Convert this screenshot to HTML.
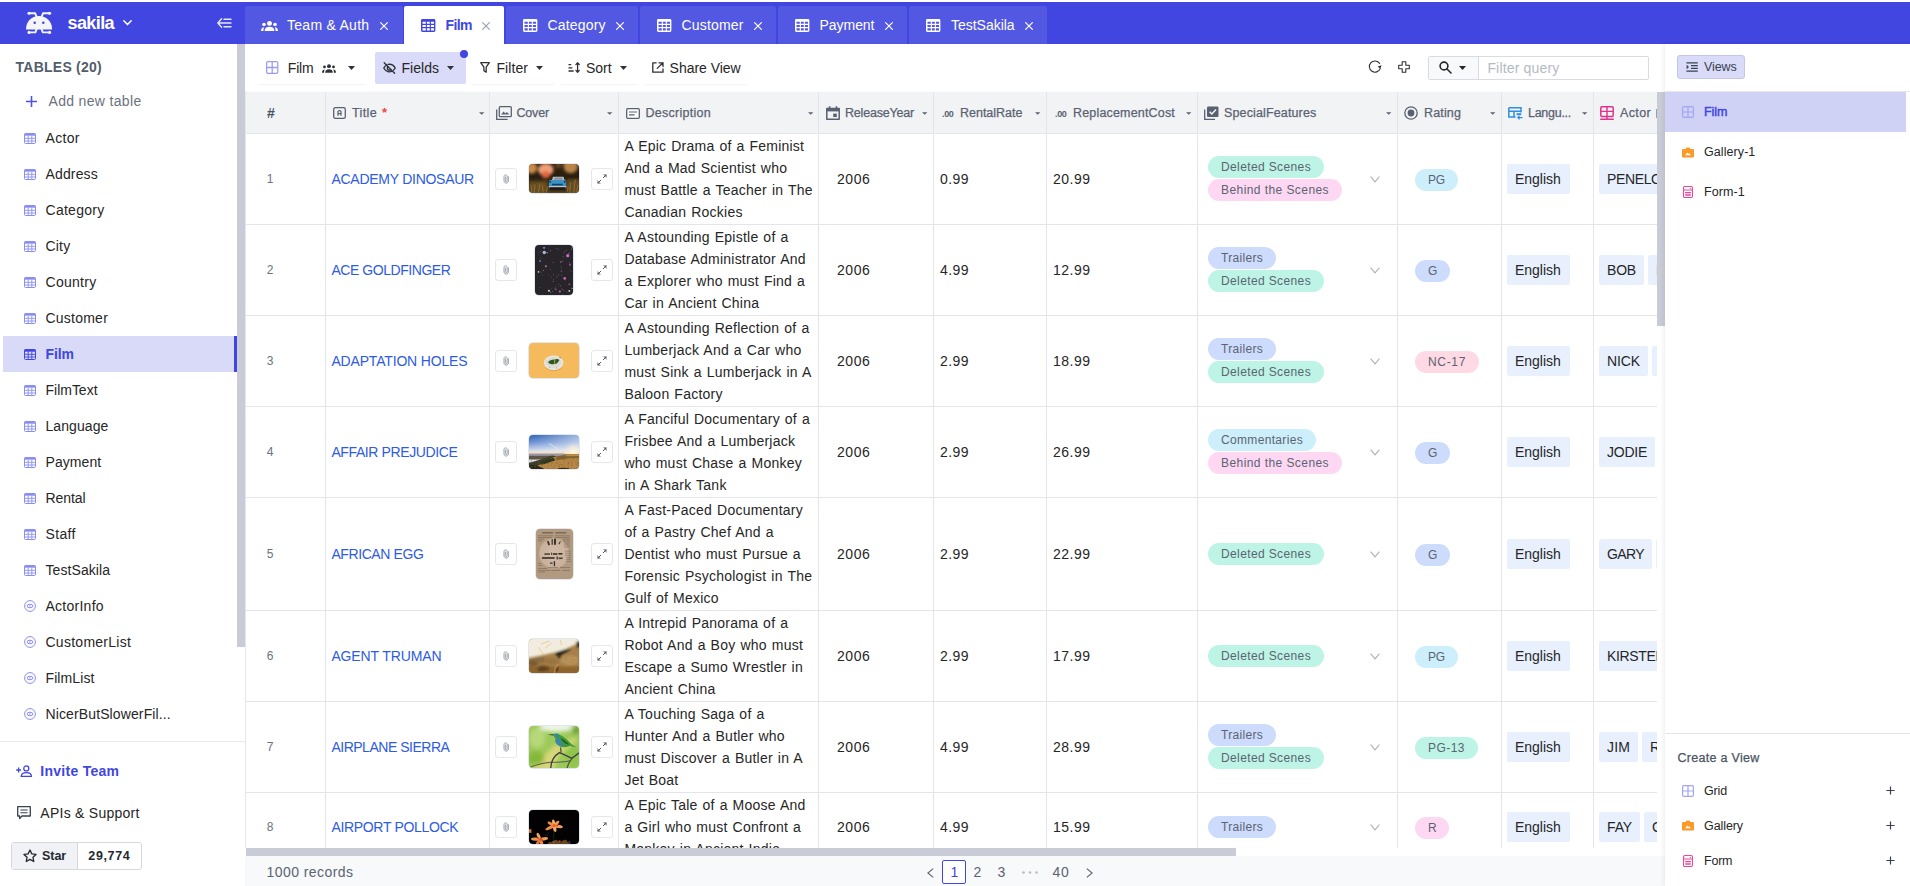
<!DOCTYPE html>
<html lang="en"><head><meta charset="utf-8"><title>sakila - Film</title>
<style>
*{box-sizing:border-box}
html,body{margin:0;padding:0}
body{width:1910px;height:886px;overflow:hidden;background:#fff;position:relative;font-family:"Liberation Sans",sans-serif;color:#262626;font-size:14px}
.abs{position:absolute}
.t{position:absolute;white-space:nowrap;line-height:20px;height:20px}
svg{position:absolute;overflow:visible}
#hdr{position:absolute;left:0;top:2px;width:1910px;height:42px;background:#4046df}
.tab{position:absolute;top:4px;height:38px;background:rgba(255,255,255,.10);border-radius:2px 2px 0 0}
.tab.act{background:#fff}
.tab .t{color:#fff}
#side{position:absolute;left:0;top:44px;width:237px;height:842px;background:#fff}
.sel{position:absolute;left:3px;top:292px;width:234px;height:36px;background:#d9daf8;border-right:3px solid #4046df}
#sbar{position:absolute;left:237px;top:44px;width:8px;height:603px;background:#c9ccd6}
#tool{position:absolute;left:245px;top:44px;width:1420px;height:47px;background:#fff}
.tb{position:absolute;top:52px;height:32px;border-radius:2px;box-shadow:0 2px 2px -1px rgba(0,0,0,.05)}
#grid{position:absolute;left:245px;top:91px;width:1412px;height:757px;overflow:hidden;background:#fff;border-top:1px solid #fbfbfc;border-left:1px solid #e5e7eb}
.hl{position:absolute;left:0;width:1412px;height:1px;background:#e4e5ec}
.vl{position:absolute;top:0;width:1px;height:757px;background:#e4e5ec}
#ghead{position:absolute;left:0;top:0;width:1412px;height:41px;background:#f2f3f5}
.hd{color:#5b6472}
.desc{position:absolute;left:379px;width:196px;font-size:14px;line-height:22px;color:#262626;white-space:nowrap}
.desc div{height:22px}
.btn{position:absolute;width:22px;height:22px;border:1px solid #e5e7eb;border-radius:3px;background:#fff}
.th{position:absolute;border-radius:4px;overflow:hidden;box-shadow:0 0 0 .5px rgba(150,165,200,.55)}
.th svg{left:0;top:0;width:100%;height:100%}
.tag{position:absolute;height:22px;border-radius:11px;font-size:12px;line-height:22px;color:#5b6472;padding:0 13px;white-space:nowrap}
.chip{position:absolute;height:30px;background:#e8f0fe;border-radius:2px;font-size:14px;line-height:30px;color:#262626;padding:0 8px;white-space:nowrap}
#foot{position:absolute;left:245px;top:856px;width:1420px;height:30px;background:#f8f9fb}
#hsb{position:absolute;left:246px;top:848px;width:990px;height:8px;background:#c9ccd6}
#vsb{position:absolute;left:1657px;top:92px;width:8px;height:234px;background:#c9ccd6}
#right{position:absolute;left:1665px;top:44px;width:245px;height:842px;background:#fff;box-shadow:-2px 0 4px rgba(0,0,0,.06)}
</style></head><body>
<div id="hdr">
<svg style="left:26px;top:10px" width="26" height="22" viewBox="0 0 26 22" fill="#f4f5f7">
<path d="M0 17.4 C0 9.6 5.4 4 13 4 C20.6 4 26.1 9.6 26.1 17.4 Z"/>
<circle cx="8.7" cy="10.7" r="1.25" fill="#4046df"/><circle cx="17.3" cy="10.7" r="1.25" fill="#4046df"/>
<g fill="none" stroke="#f4f5f7" stroke-width="1.9" stroke-linejoin="round">
<path d="M3 1.3 H9.2 L10.8 5.4"/><path d="M23.6 1.3 H17 L15.4 5.4"/>
<path d="M3 20.4 H9.4 L10.8 16.6"/><path d="M23.6 20.4 H16.8 L15.4 16.6"/>
</g>
<circle cx="3" cy="1.3" r="1.55"/><circle cx="23.6" cy="1.3" r="1.55"/><circle cx="3" cy="20.4" r="1.55"/><circle cx="23.6" cy="20.4" r="1.55"/>
</svg>
<span class="t " style="left:67.5px;top:11px;font-size:18px;letter-spacing:-0.594px;font-weight:700;color:#fff;">sakila</span>
<svg style="left:123px;top:18px" width="9" height="6" viewBox="0 0 9 6" fill="none" stroke="#fff" stroke-width="1.5" stroke-linecap="round" stroke-linejoin="round"><path d="M0.8 0.8 L4.5 4.6 L8.2 0.8"/></svg>
<svg style="left:217px;top:16px" width="15" height="10" viewBox="0 0 15 10" fill="none" stroke="#e5e7ff" stroke-width="1.4" stroke-linecap="round" stroke-linejoin="round"><path d="M4.6 0.8 L0.8 5 L4.6 9.2 M0.8 5 L14 5 M7 1.2 L14 1.2 M7 8.8 L14 8.8"/></svg>
<div class="tab" style="left:245px;width:158px">
<svg style="left:16px;top:14.6px" width="17" height="10.4" viewBox="0 0 17 11" preserveAspectRatio="none" fill="#fff"><circle cx="8.5" cy="2.6" r="2.5"/><path d="M3.6 10.6 C3.6 7.6 5.6 6.2 8.5 6.2 C11.4 6.2 13.4 7.6 13.4 10.6 Z"/><circle cx="3" cy="3.6" r="1.8"/><circle cx="14" cy="3.6" r="1.8"/><path d="M0 10.6 C0 8 1.2 6.8 3.4 6.6 C2.6 7.6 2.4 9 2.4 10.6 Z"/><path d="M17 10.6 C17 8 15.8 6.8 13.6 6.6 C14.4 7.6 14.6 9 14.6 10.6 Z"/></svg>
<span class="t " style="left:42px;top:9px;font-size:14px;letter-spacing:0.275px;color:#fff;">Team &amp; Auth</span>
<svg style="left:135px;top:16px" width="8" height="8" viewBox="0 0 8 8" fill="none" stroke="#fff" stroke-width="1.2" stroke-linecap="round"><path d="M0.6 0.6 L7.4 7.4 M7.4 0.6 L0.6 7.4"/></svg>
</div>
<div class="tab act" style="left:404px;width:100px">
<svg style="left:17.4px;top:13px" width="14.4" height="12.9" viewBox="0 0 14.4 12.9"><path fill-rule="evenodd" fill="#4046df" d="M1.4 0 H13 A1.4 1.4 0 0 1 14.4 1.4 V11.5 A1.4 1.4 0 0 1 13 12.9 H1.4 A1.4 1.4 0 0 1 0 11.5 V1.4 A1.4 1.4 0 0 1 1.4 0 Z M1.5 2.7 V4.8 H4.8 V2.7 Z M1.5 5.9 V8.1 H4.8 V5.9 Z M1.5 9.2 V11.4 H4.8 V9.2 Z M5.9 2.7 V4.8 H8.8 V2.7 Z M5.9 5.9 V8.1 H8.8 V5.9 Z M5.9 9.2 V11.4 H8.8 V9.2 Z M9.9 2.7 V4.8 H13.0 V2.7 Z M9.9 5.9 V8.1 H13.0 V5.9 Z M9.9 9.2 V11.4 H13.0 V9.2 Z"/></svg>
<span class="t " style="left:41.4px;top:9px;font-size:14px;letter-spacing:-0.545px;font-weight:700;color:#4046df;">Film</span>
<svg style="left:78px;top:16px" width="8" height="8" viewBox="0 0 8 8" fill="none" stroke="#9ca3af" stroke-width="1.2" stroke-linecap="round"><path d="M0.6 0.6 L7.4 7.4 M7.4 0.6 L0.6 7.4"/></svg>
</div>
<div class="tab" style="left:506px;width:132px">
<svg style="left:17.4px;top:13px" width="14.4" height="12.9" viewBox="0 0 14.4 12.9"><path fill-rule="evenodd" fill="#fff" d="M1.4 0 H13 A1.4 1.4 0 0 1 14.4 1.4 V11.5 A1.4 1.4 0 0 1 13 12.9 H1.4 A1.4 1.4 0 0 1 0 11.5 V1.4 A1.4 1.4 0 0 1 1.4 0 Z M1.5 2.7 V4.8 H4.8 V2.7 Z M1.5 5.9 V8.1 H4.8 V5.9 Z M1.5 9.2 V11.4 H4.8 V9.2 Z M5.9 2.7 V4.8 H8.8 V2.7 Z M5.9 5.9 V8.1 H8.8 V5.9 Z M5.9 9.2 V11.4 H8.8 V9.2 Z M9.9 2.7 V4.8 H13.0 V2.7 Z M9.9 5.9 V8.1 H13.0 V5.9 Z M9.9 9.2 V11.4 H13.0 V9.2 Z"/></svg>
<span class="t " style="left:41.6px;top:9px;font-size:14px;letter-spacing:0.152px;color:#fff;">Category</span>
<svg style="left:110px;top:16px" width="8" height="8" viewBox="0 0 8 8" fill="none" stroke="#fff" stroke-width="1.2" stroke-linecap="round"><path d="M0.6 0.6 L7.4 7.4 M7.4 0.6 L0.6 7.4"/></svg>
</div>
<div class="tab" style="left:640px;width:136px">
<svg style="left:17px;top:13px" width="14.4" height="12.9" viewBox="0 0 14.4 12.9"><path fill-rule="evenodd" fill="#fff" d="M1.4 0 H13 A1.4 1.4 0 0 1 14.4 1.4 V11.5 A1.4 1.4 0 0 1 13 12.9 H1.4 A1.4 1.4 0 0 1 0 11.5 V1.4 A1.4 1.4 0 0 1 1.4 0 Z M1.5 2.7 V4.8 H4.8 V2.7 Z M1.5 5.9 V8.1 H4.8 V5.9 Z M1.5 9.2 V11.4 H4.8 V9.2 Z M5.9 2.7 V4.8 H8.8 V2.7 Z M5.9 5.9 V8.1 H8.8 V5.9 Z M5.9 9.2 V11.4 H8.8 V9.2 Z M9.9 2.7 V4.8 H13.0 V2.7 Z M9.9 5.9 V8.1 H13.0 V5.9 Z M9.9 9.2 V11.4 H13.0 V9.2 Z"/></svg>
<span class="t " style="left:41.6px;top:9px;font-size:14px;letter-spacing:0.168px;color:#fff;">Customer</span>
<svg style="left:113.6px;top:16px" width="8" height="8" viewBox="0 0 8 8" fill="none" stroke="#fff" stroke-width="1.2" stroke-linecap="round"><path d="M0.6 0.6 L7.4 7.4 M7.4 0.6 L0.6 7.4"/></svg>
</div>
<div class="tab" style="left:778px;width:129px">
<svg style="left:17.4px;top:13px" width="14.4" height="12.9" viewBox="0 0 14.4 12.9"><path fill-rule="evenodd" fill="#fff" d="M1.4 0 H13 A1.4 1.4 0 0 1 14.4 1.4 V11.5 A1.4 1.4 0 0 1 13 12.9 H1.4 A1.4 1.4 0 0 1 0 11.5 V1.4 A1.4 1.4 0 0 1 1.4 0 Z M1.5 2.7 V4.8 H4.8 V2.7 Z M1.5 5.9 V8.1 H4.8 V5.9 Z M1.5 9.2 V11.4 H4.8 V9.2 Z M5.9 2.7 V4.8 H8.8 V2.7 Z M5.9 5.9 V8.1 H8.8 V5.9 Z M5.9 9.2 V11.4 H8.8 V9.2 Z M9.9 2.7 V4.8 H13.0 V2.7 Z M9.9 5.9 V8.1 H13.0 V5.9 Z M9.9 9.2 V11.4 H13.0 V9.2 Z"/></svg>
<span class="t " style="left:41.6px;top:9px;font-size:14px;letter-spacing:-0.062px;color:#fff;">Payment</span>
<svg style="left:107px;top:16px" width="8" height="8" viewBox="0 0 8 8" fill="none" stroke="#fff" stroke-width="1.2" stroke-linecap="round"><path d="M0.6 0.6 L7.4 7.4 M7.4 0.6 L0.6 7.4"/></svg>
</div>
<div class="tab" style="left:909px;width:138px">
<svg style="left:17.4px;top:13px" width="14.4" height="12.9" viewBox="0 0 14.4 12.9"><path fill-rule="evenodd" fill="#fff" d="M1.4 0 H13 A1.4 1.4 0 0 1 14.4 1.4 V11.5 A1.4 1.4 0 0 1 13 12.9 H1.4 A1.4 1.4 0 0 1 0 11.5 V1.4 A1.4 1.4 0 0 1 1.4 0 Z M1.5 2.7 V4.8 H4.8 V2.7 Z M1.5 5.9 V8.1 H4.8 V5.9 Z M1.5 9.2 V11.4 H4.8 V9.2 Z M5.9 2.7 V4.8 H8.8 V2.7 Z M5.9 5.9 V8.1 H8.8 V5.9 Z M5.9 9.2 V11.4 H8.8 V9.2 Z M9.9 2.7 V4.8 H13.0 V2.7 Z M9.9 5.9 V8.1 H13.0 V5.9 Z M9.9 9.2 V11.4 H13.0 V9.2 Z"/></svg>
<span class="t " style="left:42px;top:9px;font-size:14px;letter-spacing:-0.02px;color:#fff;">TestSakila</span>
<svg style="left:116px;top:16px" width="8" height="8" viewBox="0 0 8 8" fill="none" stroke="#fff" stroke-width="1.2" stroke-linecap="round"><path d="M0.6 0.6 L7.4 7.4 M7.4 0.6 L0.6 7.4"/></svg>
</div>
</div>
<div id="side">
<span class="t " style="left:15.5px;top:13px;font-size:14px;letter-spacing:0.251px;font-weight:700;color:#535d6c;">TABLES (20)</span>
<svg style="left:26px;top:52px" width="11" height="11" viewBox="0 0 11 11" fill="none" stroke="#4f52e3" stroke-width="1.6"><path d="M5.5 0 V11 M0 5.5 H11"/></svg>
<span class="t " style="left:48.5px;top:47px;font-size:14px;letter-spacing:0.331px;color:#6b7280;">Add new table</span>
<div class="sel"></div>
<svg style="left:24px;top:88.5px" width="12" height="11" viewBox="0 0 12 11"><rect x="0.5" y="0.5" width="11" height="10" rx="1" fill="none" stroke="#8b8ef0" stroke-width="1"/><rect x="0.5" y="0.5" width="11" height="2.2" fill="#8b8ef0"/><path d="M0.5 5.3 H11.5 M0.5 8 H11.5 M4.2 2.7 V10.5 M7.8 2.7 V10.5" stroke="#8b8ef0" stroke-width="0.9" fill="none"/></svg>
<span class="t " style="left:45.5px;top:84px;font-size:14px;letter-spacing:0.326px;color:#262626;">Actor</span>
<svg style="left:24px;top:124.5px" width="12" height="11" viewBox="0 0 12 11"><rect x="0.5" y="0.5" width="11" height="10" rx="1" fill="none" stroke="#8b8ef0" stroke-width="1"/><rect x="0.5" y="0.5" width="11" height="2.2" fill="#8b8ef0"/><path d="M0.5 5.3 H11.5 M0.5 8 H11.5 M4.2 2.7 V10.5 M7.8 2.7 V10.5" stroke="#8b8ef0" stroke-width="0.9" fill="none"/></svg>
<span class="t " style="left:45.5px;top:120px;font-size:14px;letter-spacing:0.151px;color:#262626;">Address</span>
<svg style="left:24px;top:160.5px" width="12" height="11" viewBox="0 0 12 11"><rect x="0.5" y="0.5" width="11" height="10" rx="1" fill="none" stroke="#8b8ef0" stroke-width="1"/><rect x="0.5" y="0.5" width="11" height="2.2" fill="#8b8ef0"/><path d="M0.5 5.3 H11.5 M0.5 8 H11.5 M4.2 2.7 V10.5 M7.8 2.7 V10.5" stroke="#8b8ef0" stroke-width="0.9" fill="none"/></svg>
<span class="t " style="left:45.5px;top:156px;font-size:14px;letter-spacing:0.265px;color:#262626;">Category</span>
<svg style="left:24px;top:196.5px" width="12" height="11" viewBox="0 0 12 11"><rect x="0.5" y="0.5" width="11" height="10" rx="1" fill="none" stroke="#8b8ef0" stroke-width="1"/><rect x="0.5" y="0.5" width="11" height="2.2" fill="#8b8ef0"/><path d="M0.5 5.3 H11.5 M0.5 8 H11.5 M4.2 2.7 V10.5 M7.8 2.7 V10.5" stroke="#8b8ef0" stroke-width="0.9" fill="none"/></svg>
<span class="t " style="left:45.5px;top:192px;font-size:14px;letter-spacing:0.198px;color:#262626;">City</span>
<svg style="left:24px;top:232.5px" width="12" height="11" viewBox="0 0 12 11"><rect x="0.5" y="0.5" width="11" height="10" rx="1" fill="none" stroke="#8b8ef0" stroke-width="1"/><rect x="0.5" y="0.5" width="11" height="2.2" fill="#8b8ef0"/><path d="M0.5 5.3 H11.5 M0.5 8 H11.5 M4.2 2.7 V10.5 M7.8 2.7 V10.5" stroke="#8b8ef0" stroke-width="0.9" fill="none"/></svg>
<span class="t " style="left:45.5px;top:228px;font-size:14px;letter-spacing:0.271px;color:#262626;">Country</span>
<svg style="left:24px;top:268.5px" width="12" height="11" viewBox="0 0 12 11"><rect x="0.5" y="0.5" width="11" height="10" rx="1" fill="none" stroke="#8b8ef0" stroke-width="1"/><rect x="0.5" y="0.5" width="11" height="2.2" fill="#8b8ef0"/><path d="M0.5 5.3 H11.5 M0.5 8 H11.5 M4.2 2.7 V10.5 M7.8 2.7 V10.5" stroke="#8b8ef0" stroke-width="0.9" fill="none"/></svg>
<span class="t " style="left:45.5px;top:264px;font-size:14px;letter-spacing:0.23px;color:#262626;">Customer</span>
<svg style="left:24px;top:304.5px" width="12" height="11" viewBox="0 0 12 11"><rect x="0.5" y="0.5" width="11" height="10" rx="1" fill="none" stroke="#4046df" stroke-width="1"/><rect x="0.5" y="0.5" width="11" height="2.2" fill="#4046df"/><path d="M0.5 5.3 H11.5 M0.5 8 H11.5 M4.2 2.7 V10.5 M7.8 2.7 V10.5" stroke="#4046df" stroke-width="0.9" fill="none"/></svg>
<span class="t " style="left:45.5px;top:300px;font-size:14px;letter-spacing:-0.07px;font-weight:700;color:#4046df;">Film</span>
<svg style="left:24px;top:340.5px" width="12" height="11" viewBox="0 0 12 11"><rect x="0.5" y="0.5" width="11" height="10" rx="1" fill="none" stroke="#8b8ef0" stroke-width="1"/><rect x="0.5" y="0.5" width="11" height="2.2" fill="#8b8ef0"/><path d="M0.5 5.3 H11.5 M0.5 8 H11.5 M4.2 2.7 V10.5 M7.8 2.7 V10.5" stroke="#8b8ef0" stroke-width="0.9" fill="none"/></svg>
<span class="t " style="left:45.5px;top:336px;font-size:14px;letter-spacing:-0.012px;color:#262626;">FilmText</span>
<svg style="left:24px;top:376.5px" width="12" height="11" viewBox="0 0 12 11"><rect x="0.5" y="0.5" width="11" height="10" rx="1" fill="none" stroke="#8b8ef0" stroke-width="1"/><rect x="0.5" y="0.5" width="11" height="2.2" fill="#8b8ef0"/><path d="M0.5 5.3 H11.5 M0.5 8 H11.5 M4.2 2.7 V10.5 M7.8 2.7 V10.5" stroke="#8b8ef0" stroke-width="0.9" fill="none"/></svg>
<span class="t " style="left:45.5px;top:372px;font-size:14px;letter-spacing:0.081px;color:#262626;">Language</span>
<svg style="left:24px;top:412.5px" width="12" height="11" viewBox="0 0 12 11"><rect x="0.5" y="0.5" width="11" height="10" rx="1" fill="none" stroke="#8b8ef0" stroke-width="1"/><rect x="0.5" y="0.5" width="11" height="2.2" fill="#8b8ef0"/><path d="M0.5 5.3 H11.5 M0.5 8 H11.5 M4.2 2.7 V10.5 M7.8 2.7 V10.5" stroke="#8b8ef0" stroke-width="0.9" fill="none"/></svg>
<span class="t " style="left:45.5px;top:408px;font-size:14px;letter-spacing:0.081px;color:#262626;">Payment</span>
<svg style="left:24px;top:448.5px" width="12" height="11" viewBox="0 0 12 11"><rect x="0.5" y="0.5" width="11" height="10" rx="1" fill="none" stroke="#8b8ef0" stroke-width="1"/><rect x="0.5" y="0.5" width="11" height="2.2" fill="#8b8ef0"/><path d="M0.5 5.3 H11.5 M0.5 8 H11.5 M4.2 2.7 V10.5 M7.8 2.7 V10.5" stroke="#8b8ef0" stroke-width="0.9" fill="none"/></svg>
<span class="t " style="left:45.5px;top:444px;font-size:14px;letter-spacing:-0.076px;color:#262626;">Rental</span>
<svg style="left:24px;top:484.5px" width="12" height="11" viewBox="0 0 12 11"><rect x="0.5" y="0.5" width="11" height="10" rx="1" fill="none" stroke="#8b8ef0" stroke-width="1"/><rect x="0.5" y="0.5" width="11" height="2.2" fill="#8b8ef0"/><path d="M0.5 5.3 H11.5 M0.5 8 H11.5 M4.2 2.7 V10.5 M7.8 2.7 V10.5" stroke="#8b8ef0" stroke-width="0.9" fill="none"/></svg>
<span class="t " style="left:45.5px;top:480px;font-size:14px;letter-spacing:0.351px;color:#262626;">Staff</span>
<svg style="left:24px;top:520.5px" width="12" height="11" viewBox="0 0 12 11"><rect x="0.5" y="0.5" width="11" height="10" rx="1" fill="none" stroke="#8b8ef0" stroke-width="1"/><rect x="0.5" y="0.5" width="11" height="2.2" fill="#8b8ef0"/><path d="M0.5 5.3 H11.5 M0.5 8 H11.5 M4.2 2.7 V10.5 M7.8 2.7 V10.5" stroke="#8b8ef0" stroke-width="0.9" fill="none"/></svg>
<span class="t " style="left:45.5px;top:516px;font-size:14px;letter-spacing:0.08px;color:#262626;">TestSakila</span>
<svg style="left:24px;top:556px" width="12" height="12" viewBox="0 0 12 12" fill="none" stroke="#8b8ef0"><circle cx="6" cy="6" r="5.4" stroke-width="1"/><ellipse cx="6" cy="6" rx="2.9" ry="1.8" stroke-width="1"/><circle cx="6" cy="6" r="0.8" fill="#8b8ef0" stroke="none"/></svg>
<span class="t " style="left:45.5px;top:552px;font-size:14px;letter-spacing:0.254px;color:#262626;">ActorInfo</span>
<svg style="left:24px;top:592px" width="12" height="12" viewBox="0 0 12 12" fill="none" stroke="#8b8ef0"><circle cx="6" cy="6" r="5.4" stroke-width="1"/><ellipse cx="6" cy="6" rx="2.9" ry="1.8" stroke-width="1"/><circle cx="6" cy="6" r="0.8" fill="#8b8ef0" stroke="none"/></svg>
<span class="t " style="left:45.5px;top:588px;font-size:14px;letter-spacing:0.264px;color:#262626;">CustomerList</span>
<svg style="left:24px;top:628px" width="12" height="12" viewBox="0 0 12 12" fill="none" stroke="#8b8ef0"><circle cx="6" cy="6" r="5.4" stroke-width="1"/><ellipse cx="6" cy="6" rx="2.9" ry="1.8" stroke-width="1"/><circle cx="6" cy="6" r="0.8" fill="#8b8ef0" stroke="none"/></svg>
<span class="t " style="left:45.5px;top:624px;font-size:14px;letter-spacing:0.1px;color:#262626;">FilmList</span>
<svg style="left:24px;top:664px" width="12" height="12" viewBox="0 0 12 12" fill="none" stroke="#8b8ef0"><circle cx="6" cy="6" r="5.4" stroke-width="1"/><ellipse cx="6" cy="6" rx="2.9" ry="1.8" stroke-width="1"/><circle cx="6" cy="6" r="0.8" fill="#8b8ef0" stroke="none"/></svg>
<span class="t " style="left:45.5px;top:660px;font-size:14px;letter-spacing:0.12px;color:#262626;">NicerButSlowerFil...</span>
<div class="abs" style="left:0;top:697px;width:245px;height:1px;background:#e5e7eb"></div>
<svg style="left:15.5px;top:721px" width="16" height="12" viewBox="0 0 16 12" fill="none" stroke="#4046df" stroke-width="1.3"><circle cx="10.3" cy="3.4" r="2.5"/><path d="M5.2 11.3 C5.2 8.6 7.4 7.6 10.3 7.6 C13.2 7.6 15.4 8.6 15.4 11.3 Z"/><path d="M2.6 2.6 V7.4 M0.2 5 H5" /></svg>
<span class="t " style="left:40.3px;top:717px;font-size:14px;letter-spacing:0.276px;font-weight:700;color:#4046df;">Invite Team</span>
<svg style="left:16.5px;top:762px" width="14" height="14" viewBox="0 0 14 14" fill="none" stroke="#374151" stroke-width="1.3" stroke-linejoin="round"><path d="M0.7 0.7 H13.3 V10 H5 L2.6 12.6 V10 H0.7 Z"/><path d="M3.4 4 H10.6 M3.4 6.7 H10.6" stroke-width="1.1"/></svg>
<span class="t " style="left:40.3px;top:759px;font-size:14px;letter-spacing:0.263px;color:#262626;">APIs &amp; Support</span>
<div class="abs" style="left:11px;top:798px;width:131px;height:28px;border:1px solid #d5d8de;border-radius:3px;background:#fff"></div>
<div class="abs" style="left:12px;top:799px;width:66px;height:26px;background:#f0f2f5;border-right:1px solid #d5d8de;border-radius:2px 0 0 2px"></div>
<svg style="left:22.5px;top:805px" width="14" height="14" viewBox="0 0 16 16" fill="none" stroke="#24292f" stroke-width="1.5" stroke-linejoin="round"><path d="M8 1.2 L10.1 5.6 L14.9 6.2 L11.4 9.5 L12.3 14.3 L8 11.9 L3.7 14.3 L4.6 9.5 L1.1 6.2 L5.9 5.6 Z"/></svg>
<span class="t " style="left:42px;top:802px;font-size:12.5px;letter-spacing:-0.028px;font-weight:700;color:#24292f;">Star</span>
<span class="t " style="left:88.3px;top:802px;font-size:12.5px;letter-spacing:0.644px;font-weight:700;color:#24292f;">29,774</span>
</div>
<div id="sbar"></div>
<div id="tool"></div>
<div class="tb" style="left:257px;width:110px"></div>
<svg style="left:266px;top:61px" width="12.4" height="13" viewBox="0 0 13 13" preserveAspectRatio="none" fill="none" stroke="#9a9cf2" stroke-width="1.3"><rect x="0.65" y="0.65" width="11.7" height="11.7" rx="1.3"/><path d="M6.5 0.65 V12.35 M0.65 6.5 H12.35"/></svg>
<span class="t " style="left:287.8px;top:58px;font-size:14px;letter-spacing:-0.205px;color:#262626;">Film</span>
<svg style="left:322px;top:64px" width="14" height="9" viewBox="0 0 17 11" fill="#2e3138"><circle cx="8.5" cy="2.6" r="2.4"/><path d="M3.8 10.6 C3.8 7.8 5.8 6.4 8.5 6.4 C11.2 6.4 13.2 7.8 13.2 10.6 Z"/><circle cx="3" cy="3.6" r="1.7"/><circle cx="14" cy="3.6" r="1.7"/><path d="M0 10.6 C0 8 1.2 6.9 3.3 6.7 C2.6 7.7 2.5 9 2.5 10.6 Z"/><path d="M17 10.6 C17 8 15.8 6.9 13.7 6.7 C14.4 7.7 14.5 9 14.5 10.6 Z"/></svg>
<svg style="left:348px;top:66px" width="7" height="4" viewBox="0 0 7 4" fill="#2e3138"><path d="M0 0 H7 L3.5 4 Z"/></svg>
<div class="tb" style="left:375px;width:91px;height:31.6px;background:#dadbf8;box-shadow:none"></div>
<svg style="left:383px;top:62px" width="13" height="12" viewBox="0 0 13 12" fill="none" stroke="#2e3138" stroke-width="1.35" stroke-linecap="round"><path d="M1.2 0.8 L11.6 11.2"/><path d="M3.6 3 C2.2 3.9 1.3 5 0.8 6 C2 8.3 4 9.8 6.5 9.8 C7.3 9.8 8 9.7 8.7 9.4 M5 2.4 C5.5 2.3 6 2.2 6.5 2.2 C9 2.2 11 3.7 12.2 6 C11.8 6.8 11.3 7.5 10.6 8.1"/><path d="M4.8 4.6 C4.5 5 4.3 5.5 4.3 6 C4.3 7.2 5.3 8.2 6.5 8.2 C7 8.2 7.5 8 7.9 7.7"/></svg>
<span class="t " style="left:401.4px;top:58px;font-size:14px;letter-spacing:0.045px;color:#262626;">Fields</span>
<svg style="left:447px;top:66px" width="7" height="4" viewBox="0 0 7 4" fill="#2e3138"><path d="M0 0 H7 L3.5 4 Z"/></svg>
<div class="abs" style="left:460px;top:50px;width:8px;height:8px;border-radius:4px;background:#4046df"></div>
<div class="tb" style="left:470px;width:85px"></div>
<svg style="left:480px;top:62px" width="10" height="11" viewBox="0 0 10 11" fill="none" stroke="#2e3138" stroke-width="1.3" stroke-linejoin="round"><path d="M0.7 0.7 H9.3 L6.2 5.2 V10.2 L3.9 8.6 V5.2 Z"/></svg>
<span class="t " style="left:496.4px;top:58px;font-size:14px;letter-spacing:0.084px;color:#262626;">Filter</span>
<svg style="left:536px;top:66px" width="7" height="4" viewBox="0 0 7 4" fill="#2e3138"><path d="M0 0 H7 L3.5 4 Z"/></svg>
<div class="tb" style="left:559px;width:80px"></div>
<svg style="left:568px;top:62px" width="12" height="11" viewBox="0 0 12 11" fill="none" stroke="#2e3138" stroke-width="1.3"><path d="M0.5 2.6 H3.2 M0.5 5.8 H4.4 M0.5 9 H5.6"/><path d="M9.6 0.8 V10.2 M7.9 2.6 L9.6 0.8 L11.3 2.6 M7.9 8.4 L9.6 10.2 L11.3 8.4" stroke-linecap="round" stroke-linejoin="round"/></svg>
<span class="t " style="left:586px;top:58px;font-size:14px;letter-spacing:-0.018px;color:#262626;">Sort</span>
<svg style="left:620px;top:66px" width="7" height="4" viewBox="0 0 7 4" fill="#2e3138"><path d="M0 0 H7 L3.5 4 Z"/></svg>
<div class="tb" style="left:643px;width:106px"></div>
<svg style="left:652px;top:62px" width="12" height="11" viewBox="0 0 12 11" fill="none" stroke="#2e3138" stroke-width="1.3" stroke-linejoin="round"><path d="M4.6 0.8 H0.8 V10.2 H11 V6.4"/><path d="M7 0.8 H11 V4.6 M11 0.8 L5.2 6.4" stroke-linecap="round"/></svg>
<span class="t " style="left:669.6px;top:58px;font-size:14px;letter-spacing:-0.033px;color:#262626;">Share View</span>
<svg style="left:1368px;top:60px" width="15" height="14" viewBox="0 0 15 14" fill="none" stroke="#2e3138" stroke-width="1.1" stroke-linecap="round"><path d="M12.2 8.6 A5.6 5.6 0 1 1 11.6 3.4"/><path d="M13.6 5.2 L12.3 8.7 L9.6 6.6 Z" fill="#2e3138" stroke="none"/></svg>
<svg style="left:1398px;top:61px" width="12" height="12" viewBox="0 0 12 12" fill="none" stroke="#2e3138" stroke-width="1.1" stroke-linejoin="round"><path d="M4.2 0.7 H7.8 V4.2 H11.3 V7.8 H7.8 V11.3 H4.2 V7.8 H0.7 V4.2 H4.2 Z"/></svg>
<div class="abs" style="left:1428px;top:56px;width:221px;height:24px;border:1px solid #d9dbe1;border-radius:2px;background:#fff"></div>
<div class="abs" style="left:1429px;top:57px;width:50px;height:22px;background:#f8f9fb;border-right:1px solid #d9dbe1"></div>
<svg style="left:1438.5px;top:61px" width="13" height="13" viewBox="0 0 13 13" fill="none" stroke="#262626" stroke-width="1.6" stroke-linecap="round"><circle cx="5" cy="5" r="3.9"/><path d="M8 8 L12 12"/></svg>
<svg style="left:1459px;top:66px" width="7" height="4" viewBox="0 0 7 4" fill="#262626"><path d="M0 0 H7 L3.5 4 Z"/></svg>
<span class="t " style="left:1487.4px;top:58px;font-size:14px;letter-spacing:0.168px;color:#b6bac2;">Filter query</span>
<div id="grid">
<div id="ghead"></div>
<div class="vl" style="left:79px"></div>
<div class="vl" style="left:243px"></div>
<div class="vl" style="left:372px"></div>
<div class="vl" style="left:572px"></div>
<div class="vl" style="left:687px"></div>
<div class="vl" style="left:800px"></div>
<div class="vl" style="left:951px"></div>
<div class="vl" style="left:1151px"></div>
<div class="vl" style="left:1255px"></div>
<div class="vl" style="left:1347px"></div>
<div class="hl" style="top:41px"></div>
<div class="hl" style="top:132px"></div>
<div class="hl" style="top:223px"></div>
<div class="hl" style="top:314px"></div>
<div class="hl" style="top:405px"></div>
<div class="hl" style="top:518px"></div>
<div class="hl" style="top:609px"></div>
<div class="hl" style="top:700px"></div>
<span class="t " style="left:21px;top:11px;font-size:14px;letter-spacing:1.819px;font-weight:700;color:#4b5563;">#</span>
<svg style="left:87px;top:15px" width="13" height="12" viewBox="0 0 13 12" ><rect x="0.7" y="0.7" width="11.6" height="10.6" rx="1.6" fill="none" stroke="#596171" stroke-width="1.3"/><path d="M5 8.8 V4.6 C5 3.9 5.5 3.5 6.5 3.5 C7.5 3.5 8 3.9 8 4.6 V8.8 M5 6.5 H8" fill="none" stroke="#596171" stroke-width="1.25"/></svg>
<span class="t " style="left:106px;top:11px;font-size:12.5px;letter-spacing:0.369px;color:#5a6272;-webkit-text-stroke:.25px #5a6272;">Title</span>
<span class="t " style="left:136px;top:11.2px;font-size:13px;letter-spacing:-0.062px;font-weight:700;color:#ef4444;">*</span>
<svg style="left:233px;top:20.3px" width="5.4" height="3" viewBox="0 0 6 3" fill="#5b6472"><path d="M0 0 H6 L3 3 Z"/></svg>
<svg style="left:249.6px;top:14px" width="16" height="14" viewBox="0 0 16 14" ><path d="M0.7 3.4 V13.3 H11.6" fill="none" stroke="#596171" stroke-width="1.3"/><rect x="3.3" y="0.7" width="12" height="10" rx="1" fill="none" stroke="#596171" stroke-width="1.3"/><path d="M5.2 8.6 L7.6 5.6 L9.4 7.6 L10.8 6 L13.4 8.6 Z" fill="#596171"/></svg>
<span class="t " style="left:270.4px;top:11px;font-size:12.5px;letter-spacing:-0.149px;color:#5a6272;-webkit-text-stroke:.25px #5a6272;">Cover</span>
<svg style="left:361px;top:20.3px" width="5.4" height="3" viewBox="0 0 6 3" fill="#5b6472"><path d="M0 0 H6 L3 3 Z"/></svg>
<svg style="left:379.6px;top:15.6px" width="14" height="11" viewBox="0 0 14 11" ><rect x="0.7" y="0.7" width="12.6" height="9.6" rx="1" fill="#fff" stroke="#596171" stroke-width="1.3"/><path d="M3 4 H11 M3 6.8 H8.6" stroke="#596171" stroke-width="1.2" fill="none"/></svg>
<span class="t " style="left:399.4px;top:11px;font-size:12.5px;letter-spacing:0.279px;color:#5a6272;-webkit-text-stroke:.25px #5a6272;">Description</span>
<svg style="left:562px;top:20.3px" width="5.4" height="3" viewBox="0 0 6 3" fill="#5b6472"><path d="M0 0 H6 L3 3 Z"/></svg>
<svg style="left:580px;top:14px" width="14" height="14" viewBox="0 0 14 14" ><path d="M0.8 2.4 H13.2 V13.2 H0.8 Z" fill="none" stroke="#596171" stroke-width="1.5" stroke-linejoin="round"/><rect x="0.8" y="2.4" width="12.4" height="3" fill="#596171"/><path d="M3.6 0.2 V3 M10.4 0.2 V3" stroke="#596171" stroke-width="1.6"/><rect x="7.2" y="7.6" width="3.6" height="3.4" fill="#596171"/></svg>
<span class="t " style="left:599px;top:11px;font-size:12.5px;letter-spacing:-0.195px;color:#5a6272;-webkit-text-stroke:.25px #5a6272;">ReleaseYear</span>
<svg style="left:676px;top:20.3px" width="5.4" height="3" viewBox="0 0 6 3" fill="#5b6472"><path d="M0 0 H6 L3 3 Z"/></svg>
<span class="t " style="left:696px;top:12px;font-size:9px;letter-spacing:-0.333px;font-weight:700;color:#596171;font-size:9px;">.00</span>
<span class="t " style="left:714px;top:11px;font-size:12.5px;letter-spacing:-0.015px;color:#5a6272;-webkit-text-stroke:.25px #5a6272;">RentalRate</span>
<svg style="left:789px;top:20.3px" width="5.4" height="3" viewBox="0 0 6 3" fill="#5b6472"><path d="M0 0 H6 L3 3 Z"/></svg>
<span class="t " style="left:809px;top:12px;font-size:9px;letter-spacing:-0.333px;font-weight:700;color:#596171;font-size:9px;">.00</span>
<span class="t " style="left:827px;top:11px;font-size:12.5px;letter-spacing:0.176px;color:#5a6272;-webkit-text-stroke:.25px #5a6272;">ReplacementCost</span>
<svg style="left:940px;top:20.3px" width="5.4" height="3" viewBox="0 0 6 3" fill="#5b6472"><path d="M0 0 H6 L3 3 Z"/></svg>
<svg style="left:957.5px;top:13.6px" width="15" height="14" viewBox="0 0 15 14" ><path d="M0.7 3.6 V13.3 H11" fill="none" stroke="#596171" stroke-width="1.3"/><rect x="3" y="0.5" width="11.5" height="10.5" rx="1.2" fill="#596171"/><path d="M5.6 5.8 L7.8 8 L12 3.4" fill="none" stroke="#f2f3f5" stroke-width="1.5"/></svg>
<span class="t " style="left:978px;top:11px;font-size:12.5px;letter-spacing:0.137px;color:#5a6272;-webkit-text-stroke:.25px #5a6272;">SpecialFeatures</span>
<svg style="left:1140px;top:20.3px" width="5.4" height="3" viewBox="0 0 6 3" fill="#5b6472"><path d="M0 0 H6 L3 3 Z"/></svg>
<svg style="left:1158px;top:14px" width="14" height="14" viewBox="0 0 14 14" ><circle cx="7" cy="7" r="6.2" fill="none" stroke="#596171" stroke-width="1.3"/><circle cx="7" cy="7" r="3.4" fill="#596171"/></svg>
<span class="t " style="left:1178px;top:11px;font-size:12.5px;letter-spacing:0.143px;color:#5a6272;-webkit-text-stroke:.25px #5a6272;">Rating</span>
<svg style="left:1244px;top:20.3px" width="5.4" height="3" viewBox="0 0 6 3" fill="#5b6472"><path d="M0 0 H6 L3 3 Z"/></svg>
<svg style="left:1262px;top:14.5px" width="15" height="13" viewBox="0 0 15 13" ><path d="M0.8 0.8 H13 V5.4 M0.8 0.8 V10 H7.6 M0.8 4.2 H13 M6 4.2 V10" fill="none" stroke="#2f8fe0" stroke-width="1.5"/><path d="M14.6 10.6 H10 M11.6 8.8 L9.8 10.6 L11.6 12.4" fill="none" stroke="#2f8fe0" stroke-width="1.2"/><rect x="8.6" y="6.2" width="4.6" height="2" fill="#2f8fe0"/></svg>
<span class="t " style="left:1282px;top:11px;font-size:12.5px;letter-spacing:-0.271px;color:#5a6272;-webkit-text-stroke:.25px #5a6272;">Langu...</span>
<svg style="left:1336px;top:20.3px" width="5.4" height="3" viewBox="0 0 6 3" fill="#5b6472"><path d="M0 0 H6 L3 3 Z"/></svg>
<svg style="left:1354px;top:14px" width="14" height="14" viewBox="0 0 14 14" ><rect x="0.8" y="0.8" width="12.4" height="9.6" rx="1" fill="none" stroke="#e0318b" stroke-width="1.5"/><path d="M0.8 5.4 H13.2 M7 0.8 V13 M0.2 13.2 H13.8" fill="none" stroke="#e0318b" stroke-width="1.4"/></svg>
<span class="t " style="left:1374px;top:11px;font-size:12.5px;letter-spacing:0.366px;color:#5a6272;-webkit-text-stroke:.25px #5a6272;">Actor</span>
<div class="abs" style="left:1409.6px;top:16.5px;width:1.4px;height:9px;background:#9aa0ab"></div>
<span class="t " style="left:20.8px;top:76.5px;font-size:12px;color:#6b7280;">1</span>
<span class="t " style="left:85.4px;top:77.0px;font-size:14px;letter-spacing:-0.262px;color:#2d5be3;">ACADEMY DINOSAUR</span>
<div class="btn" style="left:249px;top:76.0px"><svg style="left:6.8px;top:5px" width="6.4" height="10" viewBox="0 0 7 11" fill="none" stroke="#7a8190" stroke-width="0.8" stroke-linecap="round"><path d="M5.9 3 V7.6 C5.9 9 4.8 10 3.5 10 C2.2 10 1.1 9 1.1 7.6 V2.6 C1.1 1.6 1.9 0.9 2.8 0.9 C3.7 0.9 4.5 1.6 4.5 2.6 V7.4 C4.5 8 4.1 8.4 3.5 8.4 C2.9 8.4 2.6 8 2.6 7.4 V3.2"/></svg></div>
<div class="btn" style="left:345px;top:76.0px"><svg style="left:5px;top:5px" width="10" height="10" viewBox="0 0 10 10"><path d="M6 0.3 H9.7 V4 Z M0.3 6 V9.7 H4 Z" fill="#6b7280" opacity=".8"/><path d="M8.8 1.2 L6.3 3.7 M1.2 8.8 L3.7 6.3" stroke="#4b5563" stroke-width="1" stroke-linecap="round" fill="none"/></svg></div>
<div class="th" style="left:282.6px;top:72.4px;width:50.8px;height:28.8px"><svg viewBox="0 0 50 28" preserveAspectRatio="none"><defs><filter id="b1" x="-20%" y="-20%" width="140%" height="140%"><feGaussianBlur stdDeviation="1.6"/></filter><filter id="b1s" x="-20%" y="-20%" width="140%" height="140%"><feGaussianBlur stdDeviation="0.5"/></filter><filter id="n1" x="0" y="0" width="100%" height="100%"><feTurbulence type="fractalNoise" baseFrequency="0.6" numOctaves="2" seed="2"/><feColorMatrix type="matrix" values="0 0 0 0 0.08  0 0 0 0 0.05  0 0 0 0 0.01  0 0 0 2.6 -1.1"/></filter><linearGradient id="g1" x1="0" y1="0" x2="0" y2="1"><stop offset="0" stop-color="#33230f"/><stop offset=".45" stop-color="#261e0f"/><stop offset="1" stop-color="#4e3916"/></linearGradient></defs>
<rect width="50" height="28" fill="url(#g1)"/>
<g filter="url(#b1)"><circle cx="2.5" cy="4" r="5.5" fill="#c98a48"/><circle cx="41" cy="2" r="7" fill="#b98448"/><circle cx="29" cy="1" r="3" fill="#6a4a24"/><ellipse cx="16.5" cy="5.5" rx="7.6" ry="6" fill="#ef9f76"/><ellipse cx="16.5" cy="10.5" rx="4" ry="3.4" fill="#e4633f"/><rect x="0" y="17" width="18" height="11" fill="#6e5224"/><rect x="37" y="15" width="13" height="13" fill="#6b4f22"/><rect x="18" y="24" width="20" height="4" fill="#4a3718"/></g>
<rect y="14" width="50" height="14" filter="url(#n1)" opacity=".55"/><g filter="url(#b1s)"><path d="M22.6 16 L23.6 12.4 H34 L35 16 Z" fill="#b5c6d6"/><path d="M24.4 15.2 L25 13.2 H32.8 L33.4 15.2 Z" fill="#8f8f96"/><rect x="19.6" y="15.6" width="17" height="6.6" rx="1.6" fill="#3b92c8"/><rect x="22.6" y="19.2" width="10.6" height="1.5" fill="#1d3d52"/><rect x="19.4" y="21.4" width="17.4" height="1.3" fill="#b9c4cc"/><rect x="20.6" y="22.8" width="15" height="2.6" fill="#1c1a14"/><circle cx="20.8" cy="17.4" r="0.9" fill="#22323c"/><circle cx="35.2" cy="17.4" r="0.9" fill="#22323c"/>
<path d="M5 28 L6 20 M9 28 L11 19 M14 28 L13 21 M40 28 L41 18 M44 28 L45.5 15 M47 28 L48 20 M3 27 L2 21 M17 28 L18 22 M38 27 L38.5 21" stroke="#9a7a3c" stroke-width="0.7" fill="none"/></g></svg></div>
<div class="desc" style="left:378.4px;top:43px;letter-spacing:.24px;word-spacing:.8px"><div>A Epic Drama of a Feminist</div><div>And a Mad Scientist who</div><div>must Battle a Teacher in The</div><div>Canadian Rockies</div></div>
<span class="t " style="left:591px;top:77.0px;font-size:14px;letter-spacing:0.569px;color:#262626;">2006</span>
<span class="t " style="left:694px;top:77.0px;font-size:14px;letter-spacing:0.441px;color:#262626;">0.99</span>
<span class="t " style="left:807px;top:77.0px;font-size:14px;letter-spacing:0.477px;color:#262626;">20.99</span>
<div class="tag" style="left:962px;top:64.0px;width:116px;background:#bdf4e5;letter-spacing:0.378px">Deleted Scenes</div>
<div class="tag" style="left:962px;top:87.0px;width:134px;background:#fed8f3;letter-spacing:0.429px">Behind the Scenes</div>
<svg style="left:1124px;top:83.6px" width="10" height="6.6" viewBox="0 0 10 6.6" ><path d="M0.6 0.6 L5 5.8 L9.4 0.6" fill="none" stroke="#adb0b8" stroke-width="1.1"/></svg>
<div class="tag" style="left:1169px;top:77.0px;width:43px;background:#cdeffb;letter-spacing:-0.164px">PG</div>
<div class="chip" style="left:1261px;top:72.0px;width:63px;letter-spacing:-0.015px">English</div>
<div class="chip" style="left:1353px;top:72.0px;width:88.6px;letter-spacing:-0.363px">PENELOPE</div>
<span class="t " style="left:20.8px;top:167.5px;font-size:12px;color:#6b7280;">2</span>
<span class="t " style="left:85.4px;top:168.0px;font-size:14px;letter-spacing:-0.446px;color:#2d5be3;">ACE GOLDFINGER</span>
<div class="btn" style="left:249px;top:167.0px"><svg style="left:6.8px;top:5px" width="6.4" height="10" viewBox="0 0 7 11" fill="none" stroke="#7a8190" stroke-width="0.8" stroke-linecap="round"><path d="M5.9 3 V7.6 C5.9 9 4.8 10 3.5 10 C2.2 10 1.1 9 1.1 7.6 V2.6 C1.1 1.6 1.9 0.9 2.8 0.9 C3.7 0.9 4.5 1.6 4.5 2.6 V7.4 C4.5 8 4.1 8.4 3.5 8.4 C2.9 8.4 2.6 8 2.6 7.4 V3.2"/></svg></div>
<div class="btn" style="left:345px;top:167.0px"><svg style="left:5px;top:5px" width="10" height="10" viewBox="0 0 10 10"><path d="M6 0.3 H9.7 V4 Z M0.3 6 V9.7 H4 Z" fill="#6b7280" opacity=".8"/><path d="M8.8 1.2 L6.3 3.7 M1.2 8.8 L3.7 6.3" stroke="#4b5563" stroke-width="1" stroke-linecap="round" fill="none"/></svg></div>
<div class="th" style="left:288.8px;top:152.6px;width:38.4px;height:50.6px"><svg viewBox="0 0 38 50" preserveAspectRatio="none"><defs><filter id="b2"><feGaussianBlur stdDeviation="0.35"/></filter></defs><rect width="38" height="50" fill="#272527"/><g filter="url(#b2)"><circle cx="12.5" cy="7.9" r="0.6" fill="#d65fd0" opacity="0.5"/><circle cx="30.9" cy="5.1" r="0.5" fill="#d65fd0" opacity="0.6"/><circle cx="1.9" cy="21.7" r="0.3" fill="#5a6ad0" opacity="0.5"/><circle cx="20.9" cy="3.4" r="0.5" fill="#c050c0" opacity="0.6"/><circle cx="23.8" cy="29.1" r="0.3" fill="#f070e0" opacity="0.5"/><circle cx="36.6" cy="2.8" r="0.35" fill="#e8e8f0" opacity="1"/><circle cx="5.8" cy="6.3" r="0.4" fill="#7f8ce8" opacity="0.5"/><circle cx="22.0" cy="31.8" r="0.4" fill="#c050c0" opacity="0.5"/><circle cx="21.4" cy="30.8" r="0.45" fill="#f070e0" opacity="0.8"/><circle cx="17.7" cy="45.7" r="0.4" fill="#e8e8f0" opacity="0.6"/><circle cx="29.9" cy="34.8" r="0.35" fill="#c050c0" opacity="0.8"/><circle cx="19.9" cy="43.4" r="0.6" fill="#8a78b8" opacity="0.8"/><circle cx="23.0" cy="4.1" r="0.5" fill="#f070e0" opacity="0.6"/><circle cx="28.5" cy="7.9" r="0.45" fill="#f070e0" opacity="0.5"/><circle cx="36.1" cy="4.3" r="0.5" fill="#b0a0c8" opacity="0.8"/><circle cx="26.2" cy="29.6" r="0.5" fill="#8a78b8" opacity="0.5"/><circle cx="31.6" cy="46.8" r="0.45" fill="#c050c0" opacity="0.5"/><circle cx="27.6" cy="15.7" r="0.5" fill="#8a78b8" opacity="0.8"/><circle cx="27.0" cy="44.0" r="0.4" fill="#d65fd0" opacity="1"/><circle cx="13.7" cy="30.4" r="0.45" fill="#d65fd0" opacity="0.6"/><circle cx="28.9" cy="6.8" r="0.35" fill="#f070e0" opacity="1"/><circle cx="34.4" cy="24.8" r="0.35" fill="#8a78b8" opacity="1"/><circle cx="20.8" cy="43.8" r="0.45" fill="#e8e8f0" opacity="1"/><circle cx="37.0" cy="34.0" r="0.45" fill="#5a6ad0" opacity="0.6"/><circle cx="3.6" cy="7.9" r="0.6" fill="#5a6ad0" opacity="0.5"/><circle cx="18.4" cy="29.4" r="0.4" fill="#e8e8f0" opacity="0.5"/><circle cx="5.9" cy="26.7" r="0.5" fill="#b0a0c8" opacity="0.6"/><circle cx="26.0" cy="25.8" r="0.5" fill="#d65fd0" opacity="1"/><circle cx="33.8" cy="38.7" r="0.6" fill="#f070e0" opacity="1"/><circle cx="15.3" cy="5.6" r="0.6" fill="#f070e0" opacity="0.5"/><circle cx="7.6" cy="48.7" r="0.45" fill="#7f8ce8" opacity="0.5"/><circle cx="13.1" cy="3.1" r="0.3" fill="#7f8ce8" opacity="0.5"/><circle cx="35.6" cy="30.6" r="0.3" fill="#5a6ad0" opacity="1"/><circle cx="6.0" cy="12.9" r="0.4" fill="#b0a0c8" opacity="1"/><circle cx="5.0" cy="42.1" r="0.45" fill="#8a78b8" opacity="1"/><circle cx="12.0" cy="7.6" r="0.6" fill="#b0a0c8" opacity="0.8"/><circle cx="18.2" cy="34.4" r="0.5" fill="#d65fd0" opacity="0.6"/><circle cx="35.7" cy="26.4" r="0.35" fill="#d65fd0" opacity="0.8"/><circle cx="36.7" cy="42.8" r="0.6" fill="#e8e8f0" opacity="0.8"/><circle cx="34.1" cy="17.9" r="0.35" fill="#b0a0c8" opacity="0.6"/><circle cx="23.2" cy="39.1" r="0.35" fill="#5a6ad0" opacity="1"/><circle cx="27.9" cy="11.6" r="0.5" fill="#8a78b8" opacity="0.8"/><circle cx="27.5" cy="49.0" r="0.4" fill="#8a78b8" opacity="0.8"/><circle cx="7.7" cy="30.2" r="0.4" fill="#8a78b8" opacity="0.8"/><circle cx="35.8" cy="18.4" r="0.35" fill="#c050c0" opacity="0.6"/><circle cx="17.9" cy="17.0" r="0.45" fill="#d65fd0" opacity="1"/><circle cx="34.1" cy="17.4" r="0.6" fill="#c050c0" opacity="0.5"/><circle cx="34.2" cy="38.8" r="0.35" fill="#8a78b8" opacity="0.6"/><circle cx="16.6" cy="31.7" r="0.3" fill="#f070e0" opacity="1"/><circle cx="15.4" cy="46.9" r="0.6" fill="#7f8ce8" opacity="0.6"/><circle cx="37.2" cy="1.8" r="0.5" fill="#8a78b8" opacity="0.6"/><circle cx="23.1" cy="29.7" r="0.45" fill="#b0a0c8" opacity="0.6"/><circle cx="20.8" cy="6.9" r="0.3" fill="#c050c0" opacity="0.6"/><circle cx="16.6" cy="43.2" r="0.35" fill="#d65fd0" opacity="0.8"/><circle cx="8.4" cy="25.1" r="0.5" fill="#b0a0c8" opacity="0.8"/><circle cx="20.6" cy="41.4" r="0.3" fill="#b0a0c8" opacity="1"/><circle cx="25.0" cy="40.4" r="0.5" fill="#f070e0" opacity="0.6"/><circle cx="20.2" cy="26.2" r="0.3" fill="#8a78b8" opacity="0.6"/><circle cx="23.0" cy="38.5" r="0.35" fill="#7f8ce8" opacity="0.6"/><circle cx="18.0" cy="36.0" r="0.5" fill="#d65fd0" opacity="0.8"/><circle cx="25.7" cy="26.5" r="0.45" fill="#c050c0" opacity="0.5"/><circle cx="9.7" cy="14.1" r="0.3" fill="#8a78b8" opacity="0.5"/><circle cx="28.6" cy="45.2" r="0.45" fill="#b0a0c8" opacity="0.6"/><circle cx="26.1" cy="22.7" r="0.5" fill="#8a78b8" opacity="0.6"/><circle cx="26.4" cy="43.5" r="0.4" fill="#5a6ad0" opacity="1"/><circle cx="5.6" cy="6.5" r="0.45" fill="#b0a0c8" opacity="0.5"/><circle cx="25.3" cy="21.5" r="0.35" fill="#e8e8f0" opacity="0.5"/><circle cx="33.7" cy="8.1" r="0.6" fill="#b0a0c8" opacity="0.6"/><circle cx="9.9" cy="7.2" r="0.45" fill="#5a6ad0" opacity="0.5"/><circle cx="15.2" cy="24.4" r="0.6" fill="#5a6ad0" opacity="0.6"/><circle cx="9.2" cy="7.4" r="1.7" fill="#a9b2e2"/><circle cx="9" cy="2.8" r="1.1" fill="#6f80dc"/><circle cx="32.4" cy="10.6" r="1.6" fill="#d761d6"/><circle cx="29.4" cy="33" r="1.3" fill="#cf62d4"/><circle cx="13.8" cy="45.2" r="0.9" fill="#eeeef4"/><circle cx="34" cy="45.4" r="0.9" fill="#dcdce6"/><circle cx="24.6" cy="46" r="1" fill="#d060d0"/><circle cx="34.6" cy="19.6" r="0.9" fill="#b050b8"/><circle cx="10.8" cy="21" r="1" fill="#b070c0"/><circle cx="5" cy="15.8" r="0.9" fill="#6a78d0"/><circle cx="3.4" cy="26.6" r="0.8" fill="#c8c8d0"/><circle cx="25.6" cy="16.8" r="0.8" fill="#c060c8"/></g></svg></div>
<div class="desc" style="left:378.4px;top:134px;letter-spacing:.24px;word-spacing:.8px"><div>A Astounding Epistle of a</div><div>Database Administrator And</div><div>a Explorer who must Find a</div><div>Car in Ancient China</div></div>
<span class="t " style="left:591px;top:168.0px;font-size:14px;letter-spacing:0.569px;color:#262626;">2006</span>
<span class="t " style="left:694px;top:168.0px;font-size:14px;letter-spacing:0.441px;color:#262626;">4.99</span>
<span class="t " style="left:807px;top:168.0px;font-size:14px;letter-spacing:0.477px;color:#262626;">12.99</span>
<div class="tag" style="left:962px;top:155.0px;width:68px;background:#cddcfc;letter-spacing:0.303px">Trailers</div>
<div class="tag" style="left:962px;top:178.0px;width:116px;background:#bdf4e5;letter-spacing:0.378px">Deleted Scenes</div>
<svg style="left:1124px;top:174.6px" width="10" height="6.6" viewBox="0 0 10 6.6" ><path d="M0.6 0.6 L5 5.8 L9.4 0.6" fill="none" stroke="#adb0b8" stroke-width="1.1"/></svg>
<div class="tag" style="left:1169px;top:168.0px;width:35px;background:#cddcfc;letter-spacing:-0.328px">G</div>
<div class="chip" style="left:1261px;top:163.0px;width:63px;letter-spacing:-0.015px">English</div>
<div class="chip" style="left:1353px;top:163.0px;width:45px;letter-spacing:-0.193px">BOB</div>
<div class="chip" style="left:1402px;top:163.0px;width:50px;letter-spacing:0.137px">NICK</div>
<span class="t " style="left:20.8px;top:258.5px;font-size:12px;color:#6b7280;">3</span>
<span class="t " style="left:85.4px;top:259.0px;font-size:14px;letter-spacing:-0.173px;color:#2d5be3;">ADAPTATION HOLES</span>
<div class="btn" style="left:249px;top:258.0px"><svg style="left:6.8px;top:5px" width="6.4" height="10" viewBox="0 0 7 11" fill="none" stroke="#7a8190" stroke-width="0.8" stroke-linecap="round"><path d="M5.9 3 V7.6 C5.9 9 4.8 10 3.5 10 C2.2 10 1.1 9 1.1 7.6 V2.6 C1.1 1.6 1.9 0.9 2.8 0.9 C3.7 0.9 4.5 1.6 4.5 2.6 V7.4 C4.5 8 4.1 8.4 3.5 8.4 C2.9 8.4 2.6 8 2.6 7.4 V3.2"/></svg></div>
<div class="btn" style="left:345px;top:258.0px"><svg style="left:5px;top:5px" width="10" height="10" viewBox="0 0 10 10"><path d="M6 0.3 H9.7 V4 Z M0.3 6 V9.7 H4 Z" fill="#6b7280" opacity=".8"/><path d="M8.8 1.2 L6.3 3.7 M1.2 8.8 L3.7 6.3" stroke="#4b5563" stroke-width="1" stroke-linecap="round" fill="none"/></svg></div>
<div class="th" style="left:282.6px;top:251.4px;width:50.8px;height:35px"><svg viewBox="0 0 50 35" preserveAspectRatio="none"><defs><filter id="b3"><feGaussianBlur stdDeviation="0.4"/></filter></defs><rect width="50" height="35" fill="#f4ba5b"/><g filter="url(#b3)"><ellipse cx="24.4" cy="20.8" rx="9.2" ry="7.2" fill="#d79a3c"/><ellipse cx="24.3" cy="19.8" rx="9.6" ry="7.4" fill="#e9e6df"/><ellipse cx="24.3" cy="19.6" rx="7.6" ry="5.6" fill="#dedbd3"/><path d="M18.8 19.4 C19.6 17.2 22.6 16.8 24.6 16.6 C26.4 15.4 28.8 16 30.2 17 C28.8 18 28.8 19.8 27.2 20.6 C24.6 21.4 20.4 21.6 18.8 19.4 Z" fill="#2b5a22"/><path d="M25.4 16 L25.2 20.6" stroke="#e8d47a" stroke-width="0.7"/><circle cx="30.6" cy="14.6" r="0.6" fill="#5a5a50"/><circle cx="20" cy="24.4" r="0.4" fill="#6a6a60"/><circle cx="27" cy="25" r="0.4" fill="#6a6a60"/><circle cx="17.4" cy="18" r="0.35" fill="#7a7a70"/></g></svg></div>
<div class="desc" style="left:378.4px;top:225px;letter-spacing:.24px;word-spacing:.8px"><div>A Astounding Reflection of a</div><div>Lumberjack And a Car who</div><div>must Sink a Lumberjack in A</div><div>Baloon Factory</div></div>
<span class="t " style="left:591px;top:259.0px;font-size:14px;letter-spacing:0.569px;color:#262626;">2006</span>
<span class="t " style="left:694px;top:259.0px;font-size:14px;letter-spacing:0.441px;color:#262626;">2.99</span>
<span class="t " style="left:807px;top:259.0px;font-size:14px;letter-spacing:0.477px;color:#262626;">18.99</span>
<div class="tag" style="left:962px;top:246.0px;width:68px;background:#cddcfc;letter-spacing:0.303px">Trailers</div>
<div class="tag" style="left:962px;top:269.0px;width:116px;background:#bdf4e5;letter-spacing:0.378px">Deleted Scenes</div>
<svg style="left:1124px;top:265.6px" width="10" height="6.6" viewBox="0 0 10 6.6" ><path d="M0.6 0.6 L5 5.8 L9.4 0.6" fill="none" stroke="#adb0b8" stroke-width="1.1"/></svg>
<div class="tag" style="left:1169px;top:259.0px;width:64px;background:#ffd9e3;letter-spacing:0.662px">NC-17</div>
<div class="chip" style="left:1261px;top:254.0px;width:63px;letter-spacing:-0.015px">English</div>
<div class="chip" style="left:1353px;top:254.0px;width:49px;letter-spacing:-0.113px">NICK</div>
<div class="chip" style="left:1406px;top:254.0px;width:45px;letter-spacing:-0.193px">BOB</div>
<span class="t " style="left:20.8px;top:349.5px;font-size:12px;color:#6b7280;">4</span>
<span class="t " style="left:85.4px;top:350.0px;font-size:14px;letter-spacing:-0.392px;color:#2d5be3;">AFFAIR PREJUDICE</span>
<div class="btn" style="left:249px;top:349.0px"><svg style="left:6.8px;top:5px" width="6.4" height="10" viewBox="0 0 7 11" fill="none" stroke="#7a8190" stroke-width="0.8" stroke-linecap="round"><path d="M5.9 3 V7.6 C5.9 9 4.8 10 3.5 10 C2.2 10 1.1 9 1.1 7.6 V2.6 C1.1 1.6 1.9 0.9 2.8 0.9 C3.7 0.9 4.5 1.6 4.5 2.6 V7.4 C4.5 8 4.1 8.4 3.5 8.4 C2.9 8.4 2.6 8 2.6 7.4 V3.2"/></svg></div>
<div class="btn" style="left:345px;top:349.0px"><svg style="left:5px;top:5px" width="10" height="10" viewBox="0 0 10 10"><path d="M6 0.3 H9.7 V4 Z M0.3 6 V9.7 H4 Z" fill="#6b7280" opacity=".8"/><path d="M8.8 1.2 L6.3 3.7 M1.2 8.8 L3.7 6.3" stroke="#4b5563" stroke-width="1" stroke-linecap="round" fill="none"/></svg></div>
<div class="th" style="left:282.6px;top:342.6px;width:50.8px;height:34.4px"><svg viewBox="0 0 50 34" preserveAspectRatio="none"><defs><filter id="b4" x="-10%" y="-10%" width="120%" height="120%"><feGaussianBlur stdDeviation="0.7"/></filter><filter id="n4" x="0" y="0" width="100%" height="100%"><feTurbulence type="fractalNoise" baseFrequency="0.55" numOctaves="2" seed="4"/><feColorMatrix type="matrix" values="0 0 0 0 0.16  0 0 0 0 0.1  0 0 0 0 0.02  0 0 0 2.6 -1.15"/></filter><linearGradient id="s4" x1="0" y1="0" x2="0" y2="1"><stop offset="0" stop-color="#2c60b6"/><stop offset=".4" stop-color="#6d93d3"/><stop offset=".8" stop-color="#cfd8ea"/><stop offset="1" stop-color="#f3e6d4"/></linearGradient><linearGradient id="h4" x1="0" y1="0" x2="1" y2="0"><stop offset="0" stop-color="#fff" stop-opacity="0"/><stop offset="1" stop-color="#fff" stop-opacity=".55"/></linearGradient><radialGradient id="r4" cx="43.5" cy="17" r="10" gradientUnits="userSpaceOnUse"><stop offset="0" stop-color="#fffef6"/><stop offset=".2" stop-color="#fdf3dc" stop-opacity=".9"/><stop offset="1" stop-color="#fbe9cf" stop-opacity="0"/></radialGradient></defs>
<rect width="50" height="19" fill="url(#s4)"/><rect width="50" height="19" fill="url(#h4)"/><rect y="16.4" width="50" height="2.4" fill="#f5dfc2" opacity=".85"/><rect width="50" height="20" fill="url(#r4)"/><rect y="19" width="50" height="15" fill="#5a5446"/>
<g filter="url(#b4)"><path d="M19.5 8.4 L28.5 13.8" stroke="#eef2fa" stroke-width="0.9" opacity=".7"/>
<rect x="-1" y="18.3" width="36" height="2.6" fill="#9a93a2"/><rect x="-1" y="20.6" width="26" height="3.2" fill="#5c5448"/><path d="M-1 24.2 H13 L10 27.4 H-1 Z" fill="#e2e4f4"/>
<path d="M-1 28 C6 26 12 24 18 22 C21 20 25 20 28 22 L30 34 H-1 Z" fill="#3a3e26"/><path d="M20 24 C26 20.4 34 19 51 19.6 V34 H2 C8 30 14 28 20 26 Z" fill="#b98848"/><path d="M27 21.6 C34 19.4 42 19 51 19.4 V23 C42 22 34 23.4 27 25 Z" fill="#7d6230"/><path d="M36 19.6 C40 19 46 19 51 19.2 V21 H36 Z" fill="#c09040"/><path d="M-1 30 C6 29 10 31 16 34 H-1 Z" fill="#2a261c"/><ellipse cx="34" cy="33.8" rx="6" ry="1.5" fill="#3e2c14"/><path d="M12 27 C16 25 20 24 24 22.4 L26 25 C20 27.4 16 28.4 12 29.4 Z" fill="#2c3620"/></g><rect y="21" width="50" height="13" filter="url(#n4)" opacity=".5"/></svg></div>
<div class="desc" style="left:378.4px;top:316px;letter-spacing:.24px;word-spacing:.8px"><div>A Fanciful Documentary of a</div><div>Frisbee And a Lumberjack</div><div>who must Chase a Monkey</div><div>in A Shark Tank</div></div>
<span class="t " style="left:591px;top:350.0px;font-size:14px;letter-spacing:0.569px;color:#262626;">2006</span>
<span class="t " style="left:694px;top:350.0px;font-size:14px;letter-spacing:0.441px;color:#262626;">2.99</span>
<span class="t " style="left:807px;top:350.0px;font-size:14px;letter-spacing:0.477px;color:#262626;">26.99</span>
<div class="tag" style="left:962px;top:337.0px;width:108px;background:#cdeffb;letter-spacing:0.331px">Commentaries</div>
<div class="tag" style="left:962px;top:360.0px;width:134px;background:#fed8f3;letter-spacing:0.429px">Behind the Scenes</div>
<svg style="left:1124px;top:356.6px" width="10" height="6.6" viewBox="0 0 10 6.6" ><path d="M0.6 0.6 L5 5.8 L9.4 0.6" fill="none" stroke="#adb0b8" stroke-width="1.1"/></svg>
<div class="tag" style="left:1169px;top:350.0px;width:35px;background:#cddcfc;letter-spacing:-0.328px">G</div>
<div class="chip" style="left:1261px;top:345.0px;width:63px;letter-spacing:-0.015px">English</div>
<div class="chip" style="left:1353px;top:345.0px;width:56px;letter-spacing:-0.247px">JODIE</div>
<span class="t " style="left:20.8px;top:451.5px;font-size:12px;color:#6b7280;">5</span>
<span class="t " style="left:85.4px;top:452.0px;font-size:14px;letter-spacing:-0.406px;color:#2d5be3;">AFRICAN EGG</span>
<div class="btn" style="left:249px;top:451.0px"><svg style="left:6.8px;top:5px" width="6.4" height="10" viewBox="0 0 7 11" fill="none" stroke="#7a8190" stroke-width="0.8" stroke-linecap="round"><path d="M5.9 3 V7.6 C5.9 9 4.8 10 3.5 10 C2.2 10 1.1 9 1.1 7.6 V2.6 C1.1 1.6 1.9 0.9 2.8 0.9 C3.7 0.9 4.5 1.6 4.5 2.6 V7.4 C4.5 8 4.1 8.4 3.5 8.4 C2.9 8.4 2.6 8 2.6 7.4 V3.2"/></svg></div>
<div class="btn" style="left:345px;top:451.0px"><svg style="left:5px;top:5px" width="10" height="10" viewBox="0 0 10 10"><path d="M6 0.3 H9.7 V4 Z M0.3 6 V9.7 H4 Z" fill="#6b7280" opacity=".8"/><path d="M8.8 1.2 L6.3 3.7 M1.2 8.8 L3.7 6.3" stroke="#4b5563" stroke-width="1" stroke-linecap="round" fill="none"/></svg></div>
<div class="th" style="left:289.6px;top:436.6px;width:37px;height:50.8px"><svg viewBox="0 0 37 50" preserveAspectRatio="none"><defs><filter id="b5"><feGaussianBlur stdDeviation="0.45"/></filter><radialGradient id="r5" cx="18" cy="24" r="17" gradientUnits="userSpaceOnUse"><stop offset="0" stop-color="#d2bcaa"/><stop offset=".8" stop-color="#c9b19c"/><stop offset="1" stop-color="#b29b82"/></radialGradient></defs><rect width="37" height="50" fill="#b19a80"/><g filter="url(#b5)"><circle cx="18" cy="24" r="15" fill="url(#r5)"/><rect x="6" y="3.2" width="11" height="1.1" fill="#4a3e32" opacity=".7"/><rect x="19.4" y="3.2" width="11" height="1.1" fill="#4a3e32" opacity=".7"/><rect x="2" y="6.4" width="15" height="0.7" fill="#5a4c3e" opacity=".55"/><rect x="19" y="6.4" width="15" height="0.7" fill="#5a4c3e" opacity=".55"/><rect x="2" y="8" width="14" height="0.7" fill="#5a4c3e" opacity=".55"/><rect x="19" y="8" width="15" height="0.7" fill="#5a4c3e" opacity=".55"/><rect x="2" y="9.6" width="6" height="0.7" fill="#5a4c3e" opacity=".55"/><rect x="27" y="9.6" width="7" height="0.7" fill="#5a4c3e" opacity=".55"/><rect x="27" y="11.4" width="7" height="0.7" fill="#5a4c3e" opacity=".55"/><rect x="28" y="13.4" width="6" height="0.7" fill="#5a4c3e" opacity=".55"/><rect x="28" y="15.4" width="6" height="0.7" fill="#5a4c3e" opacity=".55"/><rect x="28" y="17.4" width="6" height="0.7" fill="#5a4c3e" opacity=".55"/><rect x="2" y="11.4" width="4" height="0.7" fill="#5a4c3e" opacity=".55"/><rect x="29" y="21.4" width="6" height="0.7" fill="#5a4c3e" opacity=".55"/><rect x="29" y="23.4" width="6" height="0.7" fill="#5a4c3e" opacity=".55"/><rect x="29" y="25.4" width="6" height="0.7" fill="#5a4c3e" opacity=".55"/><rect x="30" y="27.4" width="5" height="0.7" fill="#5a4c3e" opacity=".55"/><rect x="30" y="29.4" width="5" height="0.7" fill="#5a4c3e" opacity=".55"/><rect x="30" y="31.4" width="5" height="0.7" fill="#5a4c3e" opacity=".55"/><rect x="2" y="33.4" width="3" height="0.7" fill="#5a4c3e" opacity=".55"/><rect x="2" y="35.4" width="4" height="0.7" fill="#5a4c3e" opacity=".55"/><rect x="2" y="38.4" width="9" height="0.7" fill="#5a4c3e" opacity=".55"/><rect x="2" y="40.4" width="12" height="0.7" fill="#5a4c3e" opacity=".55"/><rect x="15" y="40.4" width="9" height="0.7" fill="#5a4c3e" opacity=".55"/><rect x="26" y="40.4" width="8" height="0.7" fill="#5a4c3e" opacity=".55"/><rect x="2" y="42" width="7" height="0.7" fill="#5a4c3e" opacity=".55"/><rect x="12" y="37.4" width="10" height="0.7" fill="#5a4c3e" opacity=".55"/><rect x="24" y="37.4" width="10" height="0.7" fill="#5a4c3e" opacity=".55"/><path d="M15.6 10 H16.8 V15.4 H15.6 Z M18 9.6 H20 V15.4 H18 Z M11 12.4 L12.6 11.6 L14 15.6 L12.4 16.2 Z M22.4 14.4 L24 12 L24.8 12.6 L23.2 15.2 Z" fill="#3a3028"/><rect x="8.4" y="24" width="5.6" height="1.3" fill="#3a3028"/><rect x="15.2" y="23.2" width="1" height="2.4" fill="#3a3028"/><rect x="17" y="23.8" width="4.4" height="1.6" fill="#3a3028"/><rect x="22.4" y="23.6" width="4" height="1.6" fill="#3a3028"/><rect x="6" y="27.6" width="12.6" height="1.8" fill="#4a4036"/><rect x="20.6" y="27" width="1.2" height="3" fill="#3a3028"/><rect x="22.6" y="28" width="4" height="1.6" fill="#4a4036"/><rect x="14" y="33" width="2.6" height="1.2" fill="#3a3028"/><rect x="17.8" y="31.6" width="1.3" height="5" fill="#3a3028"/></g></svg></div>
<div class="desc" style="left:378.4px;top:407px;letter-spacing:.24px;word-spacing:.8px"><div>A Fast-Paced Documentary</div><div>of a Pastry Chef And a</div><div>Dentist who must Pursue a</div><div>Forensic Psychologist in The</div><div>Gulf of Mexico</div></div>
<span class="t " style="left:591px;top:452.0px;font-size:14px;letter-spacing:0.569px;color:#262626;">2006</span>
<span class="t " style="left:694px;top:452.0px;font-size:14px;letter-spacing:0.441px;color:#262626;">2.99</span>
<span class="t " style="left:807px;top:452.0px;font-size:14px;letter-spacing:0.477px;color:#262626;">22.99</span>
<div class="tag" style="left:962px;top:451.0px;width:116px;background:#bdf4e5;letter-spacing:0.378px">Deleted Scenes</div>
<svg style="left:1124px;top:458.6px" width="10" height="6.6" viewBox="0 0 10 6.6" ><path d="M0.6 0.6 L5 5.8 L9.4 0.6" fill="none" stroke="#adb0b8" stroke-width="1.1"/></svg>
<div class="tag" style="left:1169px;top:452.0px;width:35px;background:#cddcfc;letter-spacing:-0.328px">G</div>
<div class="chip" style="left:1261px;top:447.0px;width:63px;letter-spacing:-0.015px">English</div>
<div class="chip" style="left:1353px;top:447.0px;width:53px;letter-spacing:-0.609px">GARY</div>
<div class="chip" style="left:1410px;top:447.0px;width:60px;letter-spacing:-1.352px">DUSTIN</div>
<span class="t " style="left:20.8px;top:553.5px;font-size:12px;color:#6b7280;">6</span>
<span class="t " style="left:85.4px;top:554.0px;font-size:14px;letter-spacing:-0.125px;color:#2d5be3;">AGENT TRUMAN</span>
<div class="btn" style="left:249px;top:553.0px"><svg style="left:6.8px;top:5px" width="6.4" height="10" viewBox="0 0 7 11" fill="none" stroke="#7a8190" stroke-width="0.8" stroke-linecap="round"><path d="M5.9 3 V7.6 C5.9 9 4.8 10 3.5 10 C2.2 10 1.1 9 1.1 7.6 V2.6 C1.1 1.6 1.9 0.9 2.8 0.9 C3.7 0.9 4.5 1.6 4.5 2.6 V7.4 C4.5 8 4.1 8.4 3.5 8.4 C2.9 8.4 2.6 8 2.6 7.4 V3.2"/></svg></div>
<div class="btn" style="left:345px;top:553.0px"><svg style="left:5px;top:5px" width="10" height="10" viewBox="0 0 10 10"><path d="M6 0.3 H9.7 V4 Z M0.3 6 V9.7 H4 Z" fill="#6b7280" opacity=".8"/><path d="M8.8 1.2 L6.3 3.7 M1.2 8.8 L3.7 6.3" stroke="#4b5563" stroke-width="1" stroke-linecap="round" fill="none"/></svg></div>
<div class="th" style="left:282.6px;top:546.5px;width:50.8px;height:34.6px"><svg viewBox="0 0 50 34" preserveAspectRatio="none"><defs><filter id="b6" x="-10%" y="-10%" width="120%" height="120%"><feGaussianBlur stdDeviation="1.1"/></filter><filter id="b6s"><feGaussianBlur stdDeviation="0.4"/></filter><filter id="n6" x="0" y="0" width="100%" height="100%"><feTurbulence type="fractalNoise" baseFrequency="0.5" numOctaves="2" seed="9"/><feColorMatrix type="matrix" values="0 0 0 0 0.3  0 0 0 0 0.18  0 0 0 0 0.05  0 0 0 2.4 -1.1"/><feComposite in2="SourceAlpha" operator="in"/></filter></defs><rect width="50" height="34" fill="#a8804a"/><g filter="url(#b6)"><path d="M-3 -3 H53 V2 C44 6 36 11 26 13 C18 15 8 17 -3 19 Z" fill="#f1ecdd"/><path d="M25 14 C30 11 38 10 42 9 C40 12 34 14 32 16 C31 19 30 20 29 19 C28 17 27 15 25 14 Z" fill="#2a281a"/><path d="M46 3 L52 2 V9 L47 8 Z" fill="#3a3826"/><path d="M-2 21 C6 18 12 17 16 18 L14 24 H-2 Z" fill="#8a6c40"/><rect x="-2" y="27" width="54" height="9" fill="#8e632c"/><ellipse cx="40" cy="21" rx="9" ry="5" fill="#ba925a"/><ellipse cx="14" cy="29" rx="6" ry="3" fill="#64431f"/><ellipse cx="22" cy="22" rx="7" ry="3" fill="#9a7440"/><ellipse cx="4" cy="24" rx="5" ry="3" fill="#7a5a30"/></g><path d="M0 21 L14 18 L28 17 L40 11 L50 8 V34 H0 Z" filter="url(#n6)" opacity=".5"/><g filter="url(#b6s)"><path d="M9 8 L15 16 M12 5 L20 2 M16 9 L22 4 M31 1 L32 6 M26 27 L29 25 L28 31 L25 33 Z" stroke="#d9b06a" stroke-width="0.5" fill="none"/><path d="M26.6 30 L29.4 25.6 L29 31 L26 33.4 Z" fill="#6a3c1c"/><path d="M9 31 C11 28 15 27 17 29 C15 31 12 32 9 31 Z" fill="#5e4224"/></g></svg></div>
<div class="desc" style="left:378.4px;top:520px;letter-spacing:.24px;word-spacing:.8px"><div>A Intrepid Panorama of a</div><div>Robot And a Boy who must</div><div>Escape a Sumo Wrestler in</div><div>Ancient China</div></div>
<span class="t " style="left:591px;top:554.0px;font-size:14px;letter-spacing:0.569px;color:#262626;">2006</span>
<span class="t " style="left:694px;top:554.0px;font-size:14px;letter-spacing:0.441px;color:#262626;">2.99</span>
<span class="t " style="left:807px;top:554.0px;font-size:14px;letter-spacing:0.477px;color:#262626;">17.99</span>
<div class="tag" style="left:962px;top:553.0px;width:116px;background:#bdf4e5;letter-spacing:0.378px">Deleted Scenes</div>
<svg style="left:1124px;top:560.6px" width="10" height="6.6" viewBox="0 0 10 6.6" ><path d="M0.6 0.6 L5 5.8 L9.4 0.6" fill="none" stroke="#adb0b8" stroke-width="1.1"/></svg>
<div class="tag" style="left:1169px;top:554.0px;width:43px;background:#cdeffb;letter-spacing:-0.164px">PG</div>
<div class="chip" style="left:1261px;top:549.0px;width:63px;letter-spacing:-0.015px">English</div>
<div class="chip" style="left:1353px;top:549.0px;width:74.4px;letter-spacing:-0.327px">KIRSTEN</div>
<span class="t " style="left:20.8px;top:644.5px;font-size:12px;color:#6b7280;">7</span>
<span class="t " style="left:85.4px;top:645.0px;font-size:14px;letter-spacing:-0.486px;color:#2d5be3;">AIRPLANE SIERRA</span>
<div class="btn" style="left:249px;top:644.0px"><svg style="left:6.8px;top:5px" width="6.4" height="10" viewBox="0 0 7 11" fill="none" stroke="#7a8190" stroke-width="0.8" stroke-linecap="round"><path d="M5.9 3 V7.6 C5.9 9 4.8 10 3.5 10 C2.2 10 1.1 9 1.1 7.6 V2.6 C1.1 1.6 1.9 0.9 2.8 0.9 C3.7 0.9 4.5 1.6 4.5 2.6 V7.4 C4.5 8 4.1 8.4 3.5 8.4 C2.9 8.4 2.6 8 2.6 7.4 V3.2"/></svg></div>
<div class="btn" style="left:345px;top:644.0px"><svg style="left:5px;top:5px" width="10" height="10" viewBox="0 0 10 10"><path d="M6 0.3 H9.7 V4 Z M0.3 6 V9.7 H4 Z" fill="#6b7280" opacity=".8"/><path d="M8.8 1.2 L6.3 3.7 M1.2 8.8 L3.7 6.3" stroke="#4b5563" stroke-width="1" stroke-linecap="round" fill="none"/></svg></div>
<div class="th" style="left:282.6px;top:634px;width:50.8px;height:42.4px"><svg viewBox="0 0 50 42" preserveAspectRatio="none"><defs><filter id="b7" x="-15%" y="-15%" width="130%" height="130%"><feGaussianBlur stdDeviation="2"/></filter><filter id="b7s"><feGaussianBlur stdDeviation="0.35"/></filter></defs><rect width="50" height="42" fill="#9cc957"/><g filter="url(#b7)"><ellipse cx="27" cy="1" rx="17" ry="5" fill="#eef5ea"/><ellipse cx="8" cy="12" rx="8" ry="10" fill="#b7d879"/><path d="M2 44 L14 30 L24 20 L44 12 L48 14 L30 28 L24 44 Z" fill="#d7d67a"/><ellipse cx="7" cy="32" rx="8" ry="7" fill="#86b83a"/><ellipse cx="44" cy="30" rx="8" ry="10" fill="#8fc44c"/><ellipse cx="46" cy="4" rx="4" ry="4" fill="#6fa030"/></g><g filter="url(#b7s)" fill="none" stroke-linecap="round"><path d="M1.6 40.6 C8 38.2 14 36.6 21 36 C28 35.8 34 36 40 34.6" stroke="#4a4c46" stroke-width="0.9"/><path d="M21.4 42 C21.6 36 24 30 30 26.4 C34 28 38 30 42 32 C45 30 47 28 50 26.4" stroke="#3e403c" stroke-width="1.3"/><path d="M37.4 42 C38 38 40 35 42.4 32" stroke="#4a4c46" stroke-width="1.1"/><path d="M31.2 21.6 L31.6 26" stroke="#20221e" stroke-width="0.9"/>
<path d="M18.6 8.6 L24.2 8.2 L24.2 9.4 Z" fill="#1a1a18" stroke="none"/><path d="M24 8 C26 7 29 7.4 30.6 9 C33 10 37 13 40 16 C42 18 44 19.4 46.4 21 C44 21 42 20.4 40.4 19.6 C37 21.4 33 21.6 30 20 C27 18.4 25.4 16 25.6 13 C25.2 11 24.2 9.6 24 8 Z" fill="#3f9a3c" stroke="none"/><path d="M25.6 12.6 C27 13 29 13 30.4 12 C31 15 32 18 33.4 20.4 C29.6 20.4 26 17.6 25.6 12.6 Z" fill="#3b84b8" stroke="none"/><path d="M24.4 8.4 C26 7.6 28.6 7.8 30 9.2 C29 10.6 27 11.6 25.4 11.2 Z" fill="#2f8aa6" stroke="none"/><path d="M31 12 C34 13.6 37.4 16 39.6 18.6 C37 18.6 33.6 16.6 31 12 Z" fill="#1f5a24" stroke="none"/><path d="M25 10.6 L26.4 12.8 L25.6 13.6 Z" fill="#e0b060" stroke="none"/></g></svg></div>
<div class="desc" style="left:378.4px;top:611px;letter-spacing:.24px;word-spacing:.8px"><div>A Touching Saga of a</div><div>Hunter And a Butler who</div><div>must Discover a Butler in A</div><div>Jet Boat</div></div>
<span class="t " style="left:591px;top:645.0px;font-size:14px;letter-spacing:0.569px;color:#262626;">2006</span>
<span class="t " style="left:694px;top:645.0px;font-size:14px;letter-spacing:0.441px;color:#262626;">4.99</span>
<span class="t " style="left:807px;top:645.0px;font-size:14px;letter-spacing:0.477px;color:#262626;">28.99</span>
<div class="tag" style="left:962px;top:632.0px;width:68px;background:#cddcfc;letter-spacing:0.303px">Trailers</div>
<div class="tag" style="left:962px;top:655.0px;width:116px;background:#bdf4e5;letter-spacing:0.378px">Deleted Scenes</div>
<svg style="left:1124px;top:651.6px" width="10" height="6.6" viewBox="0 0 10 6.6" ><path d="M0.6 0.6 L5 5.8 L9.4 0.6" fill="none" stroke="#adb0b8" stroke-width="1.1"/></svg>
<div class="tag" style="left:1169px;top:645.0px;width:63px;background:#bdf4e5;letter-spacing:0.466px">PG-13</div>
<div class="chip" style="left:1261px;top:640.0px;width:63px;letter-spacing:-0.015px">English</div>
<div class="chip" style="left:1353px;top:640.0px;width:39px;letter-spacing:0.151px">JIM</div>
<div class="chip" style="left:1396px;top:640.0px;width:70px;letter-spacing:-1.397px">RICHARD</div>
<span class="t " style="left:20.8px;top:724.5px;font-size:12px;color:#6b7280;">8</span>
<span class="t " style="left:85.4px;top:725.0px;font-size:14px;letter-spacing:-0.318px;color:#2d5be3;">AIRPORT POLLOCK</span>
<div class="btn" style="left:249px;top:724.0px"><svg style="left:6.8px;top:5px" width="6.4" height="10" viewBox="0 0 7 11" fill="none" stroke="#7a8190" stroke-width="0.8" stroke-linecap="round"><path d="M5.9 3 V7.6 C5.9 9 4.8 10 3.5 10 C2.2 10 1.1 9 1.1 7.6 V2.6 C1.1 1.6 1.9 0.9 2.8 0.9 C3.7 0.9 4.5 1.6 4.5 2.6 V7.4 C4.5 8 4.1 8.4 3.5 8.4 C2.9 8.4 2.6 8 2.6 7.4 V3.2"/></svg></div>
<div class="btn" style="left:345px;top:724.0px"><svg style="left:5px;top:5px" width="10" height="10" viewBox="0 0 10 10"><path d="M6 0.3 H9.7 V4 Z M0.3 6 V9.7 H4 Z" fill="#6b7280" opacity=".8"/><path d="M8.8 1.2 L6.3 3.7 M1.2 8.8 L3.7 6.3" stroke="#4b5563" stroke-width="1" stroke-linecap="round" fill="none"/></svg></div>
<div class="th" style="left:282.6px;top:718px;width:50.8px;height:34.4px"><svg viewBox="0 0 50 34" preserveAspectRatio="none"><defs><filter id="b8"><feGaussianBlur stdDeviation="0.5"/></filter></defs><rect width="50" height="34" fill="#020202"/><g filter="url(#b8)"><path d="M24.6 21.4 L24.2 29" stroke="#14401c" stroke-width="0.7"/><path d="M19 22 L18 26" stroke="#123a2a" stroke-width="0.6"/><ellipse cx="28.41" cy="15.6" rx="3.8" ry="1.5" fill="#ef8c44" transform="rotate(-150 24.8 15.6)"/><ellipse cx="27.84" cy="15.6" rx="3.2" ry="1.5" fill="#f6a860" transform="rotate(-100 24.8 15.6)"/><ellipse cx="28.03" cy="15.6" rx="3.4" ry="1.5" fill="#f29a50" transform="rotate(-45 24.8 15.6)"/><ellipse cx="28.98" cy="15.6" rx="4.4" ry="1.7" fill="#f0a060" transform="rotate(8 24.8 15.6)"/><ellipse cx="27.84" cy="15.6" rx="3.2" ry="1.6" fill="#f4a868" transform="rotate(80 24.8 15.6)"/><ellipse cx="29.36" cy="15.6" rx="4.8" ry="1.5" fill="#ee8a4c" transform="rotate(155 24.8 15.6)"/><ellipse cx="24.8" cy="15.4" rx="1.7" ry="1.5" fill="#e8601c"/><circle cx="27.8" cy="15.4" r="0.8" fill="#d42a1c"/><ellipse cx="14.42" cy="29" rx="3.6" ry="1.5" fill="#f0a468" transform="rotate(-115 11 29)"/><ellipse cx="15.37" cy="29" rx="4.6" ry="1.6" fill="#e89458" transform="rotate(-178 11 29)"/><ellipse cx="14.8" cy="29" rx="4" ry="1.6" fill="#ef9a58" transform="rotate(-8 11 29)"/><ellipse cx="14.23" cy="29" rx="3.4" ry="1.6" fill="#ee8840" transform="rotate(70 11 29)"/><ellipse cx="14.23" cy="29" rx="3.4" ry="1.5" fill="#d87838" transform="rotate(125 11 29)"/><ellipse cx="11.6" cy="29" rx="1.7" ry="1.3" fill="#e8501c"/><circle cx="9" cy="28" r="0.7" fill="#c02a20"/><path d="M0 19 H2.4 V22.6 H0 Z" fill="#c87840"/>
<path d="M18 34 C19 31.4 21 30.8 22.6 31.8 C24 29.8 26 28.8 27.6 29.8 C28.6 31.2 30 31.8 31 32.2 C33 29.8 35.6 28.8 37 29.8 C37.6 31.8 39 32.8 41 33.2 L42 34 Z" fill="#6a4420"/><circle cx="39.6" cy="31.6" r="0.8" fill="#5a5aa8"/><circle cx="16.4" cy="24.6" r="0.5" fill="#3a4aa0"/><circle cx="30" cy="31" r="1.2" fill="#8a5a2a"/><circle cx="24" cy="31.6" r="1" fill="#9a6030"/></g></svg></div>
<div class="desc" style="left:378.4px;top:702px;letter-spacing:.24px;word-spacing:.8px"><div>A Epic Tale of a Moose And</div><div>a Girl who must Confront a</div><div>Monkey in Ancient India</div></div>
<span class="t " style="left:591px;top:725.0px;font-size:14px;letter-spacing:0.569px;color:#262626;">2006</span>
<span class="t " style="left:694px;top:725.0px;font-size:14px;letter-spacing:0.441px;color:#262626;">4.99</span>
<span class="t " style="left:807px;top:725.0px;font-size:14px;letter-spacing:0.477px;color:#262626;">15.99</span>
<div class="tag" style="left:962px;top:724.0px;width:68px;background:#cddcfc;letter-spacing:0.303px">Trailers</div>
<svg style="left:1124px;top:731.6px" width="10" height="6.6" viewBox="0 0 10 6.6" ><path d="M0.6 0.6 L5 5.8 L9.4 0.6" fill="none" stroke="#adb0b8" stroke-width="1.1"/></svg>
<div class="tag" style="left:1169px;top:725.0px;width:34px;background:#fed8f3;letter-spacing:-0.672px">R</div>
<div class="chip" style="left:1261px;top:720.0px;width:63px;letter-spacing:-0.015px">English</div>
<div class="chip" style="left:1353px;top:720.0px;width:41px;letter-spacing:-0.146px">FAY</div>
<div class="chip" style="left:1398px;top:720.0px;width:50px;letter-spacing:-1.422px">GENE</div>
</div>
<div id="vsb"></div><div id="hsb"></div>
<div id="foot"></div>
<span class="t " style="left:266.6px;top:862px;font-size:14px;letter-spacing:0.419px;color:#5b6472;">1000 records</span>
<svg style="left:926.5px;top:867.5px" width="7" height="10" viewBox="0 0 7 10" fill="none" stroke="#5b6472" stroke-width="1.1"><path d="M6.2 0.6 L0.9 5 L6.2 9.4"/></svg>
<div class="abs" style="left:942px;top:860px;width:24px;height:24px;border:1px solid #4046df;border-radius:2px;background:#fff"></div>
<span class="t " style="left:950.5px;top:862px;font-size:14px;color:#4046df;">1</span>
<span class="t " style="left:973.5px;top:862px;font-size:14px;color:#5b6472;">2</span>
<span class="t " style="left:997.5px;top:862px;font-size:14px;color:#5b6472;">3</span>
<svg style="left:1021.5px;top:870.5px" width="16" height="3" viewBox="0 0 16 3" fill="#bbbec6"><circle cx="1.5" cy="1.5" r="1.35"/><circle cx="8" cy="1.5" r="1.35"/><circle cx="14.5" cy="1.5" r="1.35"/></svg>
<span class="t " style="left:1052.6px;top:862px;font-size:14px;letter-spacing:0.719px;color:#5b6472;">40</span>
<svg style="left:1085.5px;top:867.5px" width="7" height="10" viewBox="0 0 7 10" fill="none" stroke="#5b6472" stroke-width="1.1"><path d="M0.8 0.6 L6.1 5 L0.8 9.4"/></svg>
<div id="right"></div>
<div class="abs" style="left:1677px;top:55px;width:68px;height:24px;background:#dadbf8;border:1px solid #c3c5ea;border-radius:3px"></div>
<svg style="left:1686px;top:62px" width="12" height="10" viewBox="0 0 12 10" fill="none" stroke="#374151" stroke-width="1.2"><path d="M0.4 0.8 H11.8 M5 3.6 H11.8 M5 6.4 H11.8 M0.4 9.2 H11.8"/><path d="M0.6 2.8 L3 5 L0.6 7.2 Z" fill="#374151" stroke="none"/></svg>
<span class="t " style="left:1704px;top:57px;font-size:12.5px;letter-spacing:-0.108px;color:#374151;">Views</span>
<div class="abs" style="left:1665px;top:91px;width:245px;height:1px;background:#e5e7eb"></div>
<div class="abs" style="left:1665px;top:92px;width:241px;height:40px;background:#cfd1f5"></div>
<svg style="left:1682px;top:106px" width="12" height="12" viewBox="0 0 12 12" fill="none" stroke="#a3a5f0" stroke-width="1.2"><rect x="0.6" y="0.6" width="10.8" height="10.8" rx="1.2"/><path d="M6 0.6 V11.4 M0.6 6 H11.4"/></svg>
<span class="t " style="left:1704px;top:102px;font-size:12.5px;letter-spacing:-0.052px;color:#4046df;-webkit-text-stroke:.45px #4046df;">Film</span>
<svg style="left:1682px;top:146.5px" width="12" height="11" viewBox="0 0 12 11"><path d="M1.2 2 H3.6 L4.4 0.6 H7.6 L8.4 2 H10.8 C11.5 2 12 2.5 12 3.2 V9.4 C12 10.1 11.5 10.6 10.8 10.6 H1.2 C0.5 10.6 0 10.1 0 9.4 V3.2 C0 2.5 0.5 2 1.2 2 Z" fill="#fb9a26"/><path d="M3.2 8.2 L5.2 5.4 L6.4 7 L7.2 6.2 L8.8 8.2 Z" fill="#fff"/></svg>
<span class="t " style="left:1704px;top:141.6px;font-size:12.5px;letter-spacing:0.077px;color:#262626;">Gallery-1</span>
<svg style="left:1683px;top:186.2px" width="10" height="12" viewBox="0 0 10 12" fill="none" stroke="#ec4899" stroke-width="1.1"><rect x="0.55" y="0.55" width="8.9" height="10.9" rx="1.2"/><path d="M0.55 4 H9.45 M2.4 6.6 H7.6 M2.4 9 H7.6" stroke-width="1"/><path d="M2.2 6 H7.8 V7.2 H2.2 Z M2.2 8.4 H7.8 V9.6 H2.2 Z" fill="#ec4899" stroke="none"/><circle cx="7.4" cy="2.3" r="0.6" fill="#ec4899" stroke="none"/></svg>
<span class="t " style="left:1704px;top:181.6px;font-size:12.5px;letter-spacing:0.089px;color:#262626;">Form-1</span>
<div class="abs" style="left:1665px;top:733px;width:245px;height:1px;background:#e3e5ea"></div>
<span class="t " style="left:1677.5px;top:747.8px;font-size:12.5px;letter-spacing:0.285px;color:#4b5563;-webkit-text-stroke:.25px #4b5563;">Create a View</span>
<svg style="left:1682px;top:784.7px" width="12" height="12" viewBox="0 0 12 12" fill="none" stroke="#a3a5f0" stroke-width="1.2"><rect x="0.6" y="0.6" width="10.8" height="10.8" rx="1.2"/><path d="M6 0.6 V11.4 M0.6 6 H11.4"/></svg>
<span class="t " style="left:1704px;top:780.7px;font-size:12.5px;letter-spacing:-0.152px;color:#262626;">Grid</span>
<svg style="left:1886px;top:786.2px" width="9" height="9" viewBox="0 0 9 9" fill="none" stroke="#374151" stroke-width="1.2"><path d="M4.5 0.4 V8.6 M0.4 4.5 H8.6"/></svg>
<svg style="left:1682px;top:820.4px" width="12" height="11" viewBox="0 0 12 11"><path d="M1.2 2 H3.6 L4.4 0.6 H7.6 L8.4 2 H10.8 C11.5 2 12 2.5 12 3.2 V9.4 C12 10.1 11.5 10.6 10.8 10.6 H1.2 C0.5 10.6 0 10.1 0 9.4 V3.2 C0 2.5 0.5 2 1.2 2 Z" fill="#fb9a26"/><path d="M3.2 8.2 L5.2 5.4 L6.4 7 L7.2 6.2 L8.8 8.2 Z" fill="#fff"/></svg>
<span class="t " style="left:1704px;top:815.7px;font-size:12.5px;letter-spacing:-0.085px;color:#262626;">Gallery</span>
<svg style="left:1886px;top:821.2px" width="9" height="9" viewBox="0 0 9 9" fill="none" stroke="#374151" stroke-width="1.2"><path d="M4.5 0.4 V8.6 M0.4 4.5 H8.6"/></svg>
<svg style="left:1683px;top:854.5px" width="10" height="12" viewBox="0 0 10 12" fill="none" stroke="#ec4899" stroke-width="1.1"><rect x="0.55" y="0.55" width="8.9" height="10.9" rx="1.2"/><path d="M0.55 4 H9.45 M2.4 6.6 H7.6 M2.4 9 H7.6" stroke-width="1"/><path d="M2.2 6 H7.8 V7.2 H2.2 Z M2.2 8.4 H7.8 V9.6 H2.2 Z" fill="#ec4899" stroke="none"/><circle cx="7.4" cy="2.3" r="0.6" fill="#ec4899" stroke="none"/></svg>
<span class="t " style="left:1704px;top:851px;font-size:12.5px;letter-spacing:-0.214px;color:#262626;">Form</span>
<svg style="left:1886px;top:855.8px" width="9" height="9" viewBox="0 0 9 9" fill="none" stroke="#374151" stroke-width="1.2"><path d="M4.5 0.4 V8.6 M0.4 4.5 H8.6"/></svg>
</body></html>
